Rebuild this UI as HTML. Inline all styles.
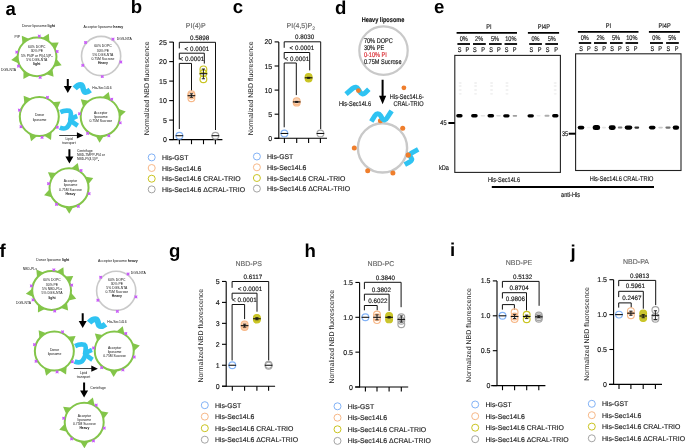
<!DOCTYPE html><html><head><meta charset="utf-8"><style>html,body{margin:0;padding:0;background:#fff;}svg{display:block;will-change:transform;}</style></head><body><svg width="685" height="448" viewBox="0 0 685 448" font-family='"Liberation Sans", sans-serif' text-rendering="geometricPrecision">
<rect width="685" height="448" fill="#fff"/>
<defs><filter id="bl" x="-50%" y="-100%" width="200%" height="300%"><feGaussianBlur stdDeviation="0.55"/></filter><filter id="bl2" x="-50%" y="-100%" width="200%" height="300%"><feGaussianBlur stdDeviation="1.2"/></filter></defs>
<text x="5.60" y="14.90" font-size="18.6" text-anchor="start" font-weight="bold" fill="#000" >a</text>
<text x="130.70" y="13.20" font-size="18.6" text-anchor="start" font-weight="bold" fill="#000" >b</text>
<text x="232.80" y="13.20" font-size="18.6" text-anchor="start" font-weight="bold" fill="#000" >c</text>
<text x="335.10" y="13.70" font-size="18.6" text-anchor="start" font-weight="bold" fill="#000" >d</text>
<text x="434.00" y="13.20" font-size="18.6" text-anchor="start" font-weight="bold" fill="#000" >e</text>
<text x="-0.60" y="256.60" font-size="18.6" text-anchor="start" font-weight="bold" fill="#000" >f</text>
<text x="169.00" y="256.60" font-size="18.6" text-anchor="start" font-weight="bold" fill="#000" >g</text>
<text x="304.60" y="256.50" font-size="18.6" text-anchor="start" font-weight="bold" fill="#000" >h</text>
<text x="450.10" y="255.80" font-size="18.6" text-anchor="start" font-weight="bold" fill="#000" >i</text>
<text x="570.60" y="258.00" font-size="18.6" text-anchor="start" font-weight="bold" fill="#000" >j</text>
<text x="38.50" y="27.30" font-size="3.5" text-anchor="middle" font-weight="normal" fill="#111" stroke="#111" stroke-width="0.000" text-rendering="optimizeLegibility" >Donor liposome <tspan font-weight="bold">light</tspan></text>
<path d="M22.57 44.65 L21.77 35.77 L29.97 39.28 Z" fill="#83c549"/>
<path d="M41.30 38.38 L48.85 33.63 L49.45 42.54 Z" fill="#83c549"/>
<path d="M49.79 42.84 L58.71 42.41 L54.85 50.46 Z" fill="#83c549"/>
<path d="M55.89 58.35 L61.68 65.14 L52.95 67.01 Z" fill="#83c549"/>
<path d="M52.24 68.04 L53.59 76.86 L45.19 73.86 Z" fill="#83c549"/>
<path d="M31.30 74.81 L23.39 78.92 L23.52 70.00 Z" fill="#83c549"/>
<path d="M19.44 63.67 L11.26 60.10 L18.28 54.59 Z" fill="#83c549"/>
<circle cx="37.05" cy="56.80" r="19.4" fill="#fff" stroke="#83c549" stroke-width="2.0"/>
<path d="M40.85 34.57 L40.48 36.12 L40.85 37.68 L39.30 37.30 L37.74 37.68 L38.11 36.12 L37.74 34.57 L39.30 34.94 Z" fill="#c95cf8"/>
<path d="M58.71 49.90 L58.33 51.45 L58.71 53.01 L57.15 52.63 L55.59 53.01 L55.97 51.45 L55.59 49.90 L57.15 50.27 Z" fill="#c95cf8"/>
<path d="M41.72 75.81 L41.34 77.37 L41.72 78.92 L40.16 78.55 L38.60 78.92 L38.98 77.37 L38.60 75.81 L40.16 76.18 Z" fill="#c95cf8"/>
<path d="M18.34 50.57 L17.97 52.12 L18.34 53.68 L16.78 53.30 L15.23 53.68 L15.60 52.12 L15.23 50.57 L16.78 50.94 Z" fill="#c95cf8"/>
<path d="M20.02 64.59 L19.65 66.15 L20.02 67.70 L18.47 67.33 L16.91 67.70 L17.29 66.15 L16.91 64.59 L18.47 64.96 Z" fill="#c95cf8"/>
<text x="36.80" y="47.90" font-size="3.4" text-anchor="middle" font-weight="normal" fill="#111" stroke="#111" stroke-width="0.000" text-rendering="optimizeLegibility" >60% DOPC</text>
<text x="36.80" y="52.20" font-size="3.4" text-anchor="middle" font-weight="normal" fill="#111" stroke="#111" stroke-width="0.000" text-rendering="optimizeLegibility" >30% PE</text>
<text x="36.80" y="56.50" font-size="3.4" text-anchor="middle" font-weight="normal" fill="#111" stroke="#111" stroke-width="0.000" text-rendering="optimizeLegibility" >5% PI4P or PI(4,5)P<tspan font-size="2.4" dy="0.8">2</tspan></text>
<text x="36.80" y="60.80" font-size="3.4" text-anchor="middle" font-weight="normal" fill="#111" stroke="#111" stroke-width="0.000" text-rendering="optimizeLegibility" >5% DGS-NTA</text>
<text x="36.80" y="65.10" font-size="3.4" text-anchor="middle" font-weight="bold" fill="#111" stroke="#111" stroke-width="0.000" text-rendering="optimizeLegibility" >light</text>
<text x="14.50" y="38.00" font-size="3.4" text-anchor="start" font-weight="normal" fill="#111" stroke="#111" stroke-width="0.000" text-rendering="optimizeLegibility" >PIP</text>
<text x="1.00" y="71.00" font-size="3.4" text-anchor="start" font-weight="normal" fill="#111" stroke="#111" stroke-width="0.000" text-rendering="optimizeLegibility" >DGS-NTA</text>
<text x="103.40" y="27.90" font-size="3.5" text-anchor="middle" font-weight="normal" fill="#111" stroke="#111" stroke-width="0.000" text-rendering="optimizeLegibility" >Acceptor liposome <tspan font-weight="bold">heavy</tspan></text>
<circle cx="101.10" cy="56.00" r="19.6" fill="#fff" stroke="#c9c9c9" stroke-width="1.6"/>
<path d="M114.53 37.61 L114.16 39.17 L114.53 40.72 L112.97 40.35 L111.42 40.72 L111.79 39.17 L111.42 37.61 L112.97 37.98 Z" fill="#c95cf8"/>
<path d="M87.11 40.93 L86.74 42.49 L87.11 44.04 L85.55 43.67 L84.00 44.04 L84.37 42.49 L84.00 40.93 L85.55 41.30 Z" fill="#c95cf8"/>
<path d="M84.33 63.86 L83.96 65.42 L84.33 66.97 L82.78 66.60 L81.22 66.97 L81.60 65.42 L81.22 63.86 L82.78 64.23 Z" fill="#c95cf8"/>
<path d="M122.36 60.47 L121.98 62.02 L122.36 63.58 L120.80 63.21 L119.24 63.58 L119.62 62.02 L119.24 60.47 L120.80 60.84 Z" fill="#c95cf8"/>
<path d="M103.84 75.01 L103.47 76.57 L103.84 78.12 L102.29 77.75 L100.73 78.12 L101.10 76.57 L100.73 75.01 L102.29 75.38 Z" fill="#c95cf8"/>
<text x="102.90" y="47.40" font-size="3.4" text-anchor="middle" font-weight="normal" fill="#111" stroke="#111" stroke-width="0.000" text-rendering="optimizeLegibility" >60% DOPC</text>
<text x="102.90" y="51.60" font-size="3.4" text-anchor="middle" font-weight="normal" fill="#111" stroke="#111" stroke-width="0.000" text-rendering="optimizeLegibility" >30% PE</text>
<text x="102.90" y="55.80" font-size="3.4" text-anchor="middle" font-weight="normal" fill="#111" stroke="#111" stroke-width="0.000" text-rendering="optimizeLegibility" >5% DGS-NTA</text>
<text x="102.90" y="60.00" font-size="3.4" text-anchor="middle" font-weight="normal" fill="#111" stroke="#111" stroke-width="0.000" text-rendering="optimizeLegibility" >0.75M Sucrose</text>
<text x="102.90" y="64.20" font-size="3.4" text-anchor="middle" font-weight="bold" fill="#111" stroke="#111" stroke-width="0.000" text-rendering="optimizeLegibility" >Heavy</text>
<text x="116.80" y="40.10" font-size="3.4" text-anchor="start" font-weight="normal" fill="#111" stroke="#111" stroke-width="0.000" text-rendering="optimizeLegibility" >DGS-NTA</text>
<path d="M66.80 79.00 H68.80 V86.10 H71.80 L67.80 93.10 L63.80 86.10 H66.80 Z" fill="#000"/>
<path d="M0.3 4.2 C2.2 2 4.8 0.4 7 0.8 C8.8 1.2 8.4 5.5 9.8 7.2 C11.2 8.6 13.6 7.5 15.8 5.8" transform="translate(74.40 84.20) rotate(0) scale(1.0 1.0)" fill="none" stroke="#2fc3f2" stroke-width="5.6" stroke-linecap="butt" stroke-linejoin="round"/>
<text x="92.20" y="89.10" font-size="3.4" text-anchor="start" font-weight="normal" fill="#111" stroke="#111" stroke-width="0.000" text-rendering="optimizeLegibility" >His-Sec14L6</text>
<path d="M24.53 104.64 L23.59 95.76 L31.88 99.11 Z" fill="#83c549"/>
<path d="M51.64 102.15 L60.55 101.44 L56.98 109.64 Z" fill="#83c549"/>
<path d="M37.84 135.54 L31.06 141.37 L29.12 132.64 Z" fill="#83c549"/>
<path d="M51.69 131.00 L51.03 139.92 L43.48 135.14 Z" fill="#83c549"/>
<circle cx="39.30" cy="116.60" r="19.5" fill="#fff" stroke="#83c549" stroke-width="2.0"/>
<path d="M49.02 95.81 L48.65 97.36 L49.02 98.92 L47.47 98.54 L45.91 98.92 L46.28 97.36 L45.91 95.81 L47.47 96.18 Z" fill="#c95cf8"/>
<path d="M20.98 108.59 L20.61 110.14 L20.98 111.70 L19.42 111.32 L17.87 111.70 L18.24 110.14 L17.87 108.59 L19.42 108.96 Z" fill="#c95cf8"/>
<path d="M22.58 125.18 L22.20 126.73 L22.58 128.29 L21.02 127.91 L19.46 128.29 L19.84 126.73 L19.46 125.18 L21.02 125.55 Z" fill="#c95cf8"/>
<path d="M58.86 125.65 L58.49 127.21 L58.86 128.76 L57.31 128.39 L55.75 128.76 L56.13 127.21 L55.75 125.65 L57.31 126.03 Z" fill="#c95cf8"/>
<path d="M43.58 135.77 L43.21 137.32 L43.58 138.88 L42.03 138.50 L40.47 138.88 L40.85 137.32 L40.47 135.77 L42.03 136.14 Z" fill="#c95cf8"/>
<text x="39.60" y="116.10" font-size="3.4" text-anchor="middle" font-weight="normal" fill="#111" stroke="#111" stroke-width="0.000" text-rendering="optimizeLegibility" >Donor</text>
<text x="39.60" y="120.90" font-size="3.4" text-anchor="middle" font-weight="normal" fill="#111" stroke="#111" stroke-width="0.000" text-rendering="optimizeLegibility" >liposome</text>
<path d="M101.86 97.77 L108.70 92.02 L110.55 100.77 Z" fill="#83c549"/>
<path d="M83.42 107.78 L80.80 99.24 L89.58 100.95 Z" fill="#83c549"/>
<path d="M117.32 108.46 L125.76 111.41 L119.18 117.46 Z" fill="#83c549"/>
<path d="M104.34 135.24 L99.56 142.79 L95.15 135.02 Z" fill="#83c549"/>
<circle cx="100.20" cy="116.70" r="19.5" fill="#fff" stroke="#83c549" stroke-width="2.0"/>
<path d="M113.29 97.72 L112.92 99.27 L113.29 100.83 L111.74 100.45 L110.18 100.83 L110.55 99.27 L110.18 97.72 L111.74 98.09 Z" fill="#c95cf8"/>
<path d="M81.06 112.24 L80.69 113.79 L81.06 115.35 L79.50 114.97 L77.95 115.35 L78.32 113.79 L77.95 112.24 L79.50 112.61 Z" fill="#c95cf8"/>
<path d="M121.74 121.25 L121.37 122.81 L121.74 124.37 L120.19 123.99 L118.63 124.37 L119.00 122.81 L118.63 121.25 L120.19 121.63 Z" fill="#c95cf8"/>
<path d="M89.18 131.84 L88.80 133.39 L89.18 134.95 L87.62 134.57 L86.07 134.95 L86.44 133.39 L86.07 131.84 L87.62 132.21 Z" fill="#c95cf8"/>
<path d="M110.39 134.18 L110.02 135.73 L110.39 137.29 L108.83 136.92 L107.28 137.29 L107.65 135.73 L107.28 134.18 L108.83 134.55 Z" fill="#c95cf8"/>
<text x="100.80" y="113.90" font-size="3.4" text-anchor="middle" font-weight="normal" fill="#111" stroke="#111" stroke-width="0.000" text-rendering="optimizeLegibility" >Acceptor</text>
<text x="100.80" y="118.10" font-size="3.4" text-anchor="middle" font-weight="normal" fill="#111" stroke="#111" stroke-width="0.000" text-rendering="optimizeLegibility" >liposome</text>
<text x="100.80" y="122.30" font-size="3.4" text-anchor="middle" font-weight="normal" fill="#111" stroke="#111" stroke-width="0.000" text-rendering="optimizeLegibility" >0.75M Sucrose</text>
<g transform="translate(60.00 109.00) scale(1.0)" fill="none" stroke="#2fc3f2" stroke-width="4.7" stroke-linejoin="round" stroke-linecap="butt"><path d="M0.3 3.2 C3 1.8 6.5 1.2 9.5 1.8 C11.5 2.8 11 6 10.3 11"/><path d="M17.2 7 C14.5 8 12 9.5 10.3 11 C12.5 13 15 15 17.7 16.8"/><path d="M10.8 11.5 C9.5 15.5 8 18 6 19 C4 20 2 19.5 -0.2 18.6"/></g>
<path d="M59.20 135.00 H76.90 V132.30 L83.50 135.40 L76.90 138.50 V135.80 H59.20 Z" fill="#000"/>
<text x="69.00" y="139.80" font-size="3.4" text-anchor="middle" font-weight="normal" fill="#111" stroke="#111" stroke-width="0.000" text-rendering="optimizeLegibility" >Lipid</text>
<text x="69.00" y="144.10" font-size="3.4" text-anchor="middle" font-weight="normal" fill="#111" stroke="#111" stroke-width="0.000" text-rendering="optimizeLegibility" >transport</text>
<path d="M68.40 149.20 H70.40 V156.60 H73.40 L69.40 163.60 L65.40 156.60 H68.40 Z" fill="#000"/>
<text x="77.00" y="152.00" font-size="3.4" text-anchor="start" font-weight="normal" fill="#111" stroke="#111" stroke-width="0.000" text-rendering="optimizeLegibility" >Centrifuge</text>
<text x="77.00" y="156.20" font-size="3.4" text-anchor="start" font-weight="normal" fill="#111" stroke="#111" stroke-width="0.000" text-rendering="optimizeLegibility" >NBD-TMPP-PI4 or</text>
<text x="77.00" y="160.40" font-size="3.4" text-anchor="start" font-weight="normal" fill="#111" stroke="#111" stroke-width="0.000" text-rendering="optimizeLegibility" >NBD-PI(4,5)P<tspan font-size="2.4" dy="0.8">2</tspan></text>
<path d="M70.87 168.74 L77.76 163.05 L79.54 171.81 Z" fill="#83c549"/>
<path d="M51.43 180.53 L47.93 172.31 L56.84 173.10 Z" fill="#83c549"/>
<path d="M84.46 176.54 L93.28 177.96 L87.87 185.07 Z" fill="#83c549"/>
<path d="M52.76 197.44 L44.09 195.28 L50.08 188.64 Z" fill="#83c549"/>
<path d="M73.81 206.04 L69.28 213.75 L64.61 206.13 Z" fill="#83c549"/>
<circle cx="69.05" cy="187.65" r="19.5" fill="#fff" stroke="#83c549" stroke-width="2.0"/>
<path d="M82.59 168.97 L82.22 170.53 L82.59 172.09 L81.04 171.71 L79.48 172.09 L79.86 170.53 L79.48 168.97 L81.04 169.35 Z" fill="#c95cf8"/>
<path d="M50.09 182.11 L49.72 183.66 L50.09 185.22 L48.53 184.84 L46.98 185.22 L47.35 183.66 L46.98 182.11 L48.53 182.48 Z" fill="#c95cf8"/>
<path d="M90.64 192.03 L90.27 193.59 L90.64 195.14 L89.09 194.77 L87.53 195.14 L87.91 193.59 L87.53 192.03 L89.09 192.40 Z" fill="#c95cf8"/>
<path d="M58.03 202.79 L57.65 204.34 L58.03 205.90 L56.47 205.52 L54.92 205.90 L55.29 204.34 L54.92 202.79 L56.47 203.16 Z" fill="#c95cf8"/>
<path d="M79.87 204.83 L79.49 206.39 L79.87 207.94 L78.31 207.57 L76.75 207.94 L77.13 206.39 L76.75 204.83 L78.31 205.20 Z" fill="#c95cf8"/>
<text x="70.50" y="182.10" font-size="3.4" text-anchor="middle" font-weight="normal" fill="#111" stroke="#111" stroke-width="0.000" text-rendering="optimizeLegibility" >Acceptor</text>
<text x="70.50" y="186.40" font-size="3.4" text-anchor="middle" font-weight="normal" fill="#111" stroke="#111" stroke-width="0.000" text-rendering="optimizeLegibility" >liposome</text>
<text x="70.50" y="190.70" font-size="3.4" text-anchor="middle" font-weight="normal" fill="#111" stroke="#111" stroke-width="0.000" text-rendering="optimizeLegibility" >0.75M Sucrose</text>
<text x="70.50" y="195.00" font-size="3.4" text-anchor="middle" font-weight="bold" fill="#111" stroke="#111" stroke-width="0.000" text-rendering="optimizeLegibility" >Heavy</text>
<text x="52.80" y="261.30" font-size="3.5" text-anchor="middle" font-weight="normal" fill="#111" stroke="#111" stroke-width="0.000" text-rendering="optimizeLegibility" >Donor liposome <tspan font-weight="bold">light</tspan></text>
<path d="M37.12 278.35 L36.32 269.47 L44.52 272.98 Z" fill="#83c549"/>
<path d="M55.85 272.08 L63.40 267.33 L64.00 276.24 Z" fill="#83c549"/>
<path d="M64.34 276.54 L73.26 276.11 L69.40 284.16 Z" fill="#83c549"/>
<path d="M70.44 292.05 L76.23 298.84 L67.50 300.71 Z" fill="#83c549"/>
<path d="M66.79 301.74 L68.14 310.56 L59.74 307.56 Z" fill="#83c549"/>
<path d="M45.85 308.51 L37.94 312.62 L38.07 303.70 Z" fill="#83c549"/>
<path d="M33.99 297.37 L25.81 293.80 L32.83 288.29 Z" fill="#83c549"/>
<circle cx="51.60" cy="290.50" r="19.4" fill="#fff" stroke="#83c549" stroke-width="2.0"/>
<path d="M55.40 268.27 L55.03 269.82 L55.40 271.38 L53.85 271.00 L52.29 271.38 L52.66 269.82 L52.29 268.27 L53.85 268.64 Z" fill="#c95cf8"/>
<path d="M73.26 283.60 L72.88 285.15 L73.26 286.71 L71.70 286.33 L70.14 286.71 L70.52 285.15 L70.14 283.60 L71.70 283.97 Z" fill="#c95cf8"/>
<path d="M56.27 309.51 L55.89 311.07 L56.27 312.62 L54.71 312.25 L53.15 312.62 L53.53 311.07 L53.15 309.51 L54.71 309.88 Z" fill="#c95cf8"/>
<path d="M32.89 284.27 L32.52 285.82 L32.89 287.38 L31.33 287.00 L29.78 287.38 L30.15 285.82 L29.78 284.27 L31.33 284.64 Z" fill="#c95cf8"/>
<path d="M34.57 298.29 L34.20 299.85 L34.57 301.40 L33.02 301.03 L31.46 301.40 L31.84 299.85 L31.46 298.29 L33.02 298.66 Z" fill="#c95cf8"/>
<text x="52.00" y="281.40" font-size="3.4" text-anchor="middle" font-weight="normal" fill="#111" stroke="#111" stroke-width="0.000" text-rendering="optimizeLegibility" >60% DOPC</text>
<text x="52.00" y="285.75" font-size="3.4" text-anchor="middle" font-weight="normal" fill="#111" stroke="#111" stroke-width="0.000" text-rendering="optimizeLegibility" >30% PE</text>
<text x="52.00" y="290.10" font-size="3.4" text-anchor="middle" font-weight="normal" fill="#111" stroke="#111" stroke-width="0.000" text-rendering="optimizeLegibility" >5% NBD-PLs</text>
<text x="52.00" y="294.45" font-size="3.4" text-anchor="middle" font-weight="normal" fill="#111" stroke="#111" stroke-width="0.000" text-rendering="optimizeLegibility" >5% DGS-NTA</text>
<text x="52.00" y="298.80" font-size="3.4" text-anchor="middle" font-weight="bold" fill="#111" stroke="#111" stroke-width="0.000" text-rendering="optimizeLegibility" >light</text>
<text x="22.80" y="270.20" font-size="3.4" text-anchor="start" font-weight="normal" fill="#111" stroke="#111" stroke-width="0.000" text-rendering="optimizeLegibility" >NBD-PLs</text>
<text x="16.00" y="304.00" font-size="3.4" text-anchor="start" font-weight="normal" fill="#111" stroke="#111" stroke-width="0.000" text-rendering="optimizeLegibility" >DGS-NTA</text>
<text x="117.90" y="261.80" font-size="3.5" text-anchor="middle" font-weight="normal" fill="#111" stroke="#111" stroke-width="0.000" text-rendering="optimizeLegibility" >Acceptor liposome <tspan font-weight="bold">heavy</tspan></text>
<circle cx="116.20" cy="290.80" r="19.6" fill="#fff" stroke="#c9c9c9" stroke-width="1.6"/>
<path d="M129.63 272.41 L129.26 273.97 L129.63 275.52 L128.07 275.15 L126.52 275.52 L126.89 273.97 L126.52 272.41 L128.07 272.78 Z" fill="#c95cf8"/>
<path d="M102.21 275.73 L101.84 277.29 L102.21 278.84 L100.65 278.47 L99.10 278.84 L99.47 277.29 L99.10 275.73 L100.65 276.10 Z" fill="#c95cf8"/>
<path d="M99.43 298.66 L99.06 300.22 L99.43 301.77 L97.88 301.40 L96.32 301.77 L96.70 300.22 L96.32 298.66 L97.88 299.03 Z" fill="#c95cf8"/>
<path d="M137.46 295.27 L137.08 296.82 L137.46 298.38 L135.90 298.01 L134.34 298.38 L134.72 296.82 L134.34 295.27 L135.90 295.64 Z" fill="#c95cf8"/>
<path d="M118.94 309.81 L118.57 311.37 L118.94 312.92 L117.39 312.55 L115.83 312.92 L116.20 311.37 L115.83 309.81 L117.39 310.18 Z" fill="#c95cf8"/>
<text x="116.80" y="280.60" font-size="3.4" text-anchor="middle" font-weight="normal" fill="#111" stroke="#111" stroke-width="0.000" text-rendering="optimizeLegibility" >60% DOPC</text>
<text x="116.80" y="284.80" font-size="3.4" text-anchor="middle" font-weight="normal" fill="#111" stroke="#111" stroke-width="0.000" text-rendering="optimizeLegibility" >30% PE</text>
<text x="116.80" y="289.00" font-size="3.4" text-anchor="middle" font-weight="normal" fill="#111" stroke="#111" stroke-width="0.000" text-rendering="optimizeLegibility" >5% DGS-NTA</text>
<text x="116.80" y="293.20" font-size="3.4" text-anchor="middle" font-weight="normal" fill="#111" stroke="#111" stroke-width="0.000" text-rendering="optimizeLegibility" >0.75M Sucrose</text>
<text x="116.80" y="297.40" font-size="3.4" text-anchor="middle" font-weight="bold" fill="#111" stroke="#111" stroke-width="0.000" text-rendering="optimizeLegibility" >Heavy</text>
<text x="130.80" y="273.60" font-size="3.4" text-anchor="start" font-weight="normal" fill="#111" stroke="#111" stroke-width="0.000" text-rendering="optimizeLegibility" >DGS-NTA</text>
<path d="M81.70 313.20 H83.70 V320.90 H86.70 L82.70 327.90 L78.70 320.90 H81.70 Z" fill="#000"/>
<path d="M0.3 4.2 C2.2 2 4.8 0.4 7 0.8 C8.8 1.2 8.4 5.5 9.8 7.2 C11.2 8.6 13.6 7.5 15.8 5.8" transform="translate(88.80 318.40) rotate(0) scale(1.06 1.0)" fill="none" stroke="#2fc3f2" stroke-width="5.6" stroke-linecap="butt" stroke-linejoin="round"/>
<text x="107.20" y="322.80" font-size="3.4" text-anchor="start" font-weight="normal" fill="#111" stroke="#111" stroke-width="0.000" text-rendering="optimizeLegibility" >His-Sec14L6</text>
<path d="M39.58 339.14 L38.64 330.26 L46.93 333.61 Z" fill="#83c549"/>
<path d="M66.69 336.65 L75.60 335.94 L72.03 344.14 Z" fill="#83c549"/>
<path d="M52.89 370.04 L46.11 375.87 L44.17 367.14 Z" fill="#83c549"/>
<path d="M66.74 365.50 L66.08 374.42 L58.53 369.64 Z" fill="#83c549"/>
<circle cx="54.35" cy="351.10" r="19.5" fill="#fff" stroke="#83c549" stroke-width="2.0"/>
<path d="M64.07 330.31 L63.70 331.86 L64.07 333.42 L62.52 333.04 L60.96 333.42 L61.33 331.86 L60.96 330.31 L62.52 330.68 Z" fill="#c95cf8"/>
<path d="M36.03 343.09 L35.66 344.64 L36.03 346.20 L34.47 345.82 L32.92 346.20 L33.29 344.64 L32.92 343.09 L34.47 343.46 Z" fill="#c95cf8"/>
<path d="M37.63 359.68 L37.25 361.23 L37.63 362.79 L36.07 362.41 L34.51 362.79 L34.89 361.23 L34.51 359.68 L36.07 360.05 Z" fill="#c95cf8"/>
<path d="M73.91 360.15 L73.54 361.71 L73.91 363.26 L72.36 362.89 L70.80 363.26 L71.18 361.71 L70.80 360.15 L72.36 360.53 Z" fill="#c95cf8"/>
<path d="M58.63 370.27 L58.26 371.82 L58.63 373.38 L57.08 373.00 L55.52 373.38 L55.90 371.82 L55.52 370.27 L57.08 370.64 Z" fill="#c95cf8"/>
<text x="54.50" y="350.60" font-size="3.4" text-anchor="middle" font-weight="normal" fill="#111" stroke="#111" stroke-width="0.000" text-rendering="optimizeLegibility" >Donor</text>
<text x="54.50" y="355.40" font-size="3.4" text-anchor="middle" font-weight="normal" fill="#111" stroke="#111" stroke-width="0.000" text-rendering="optimizeLegibility" >liposome</text>
<path d="M115.91 331.97 L122.75 326.22 L124.60 334.97 Z" fill="#83c549"/>
<path d="M97.47 341.98 L94.85 333.44 L103.63 335.15 Z" fill="#83c549"/>
<path d="M131.37 342.66 L139.81 345.61 L133.23 351.66 Z" fill="#83c549"/>
<path d="M118.39 369.44 L113.61 376.99 L109.20 369.22 Z" fill="#83c549"/>
<circle cx="114.25" cy="350.90" r="19.5" fill="#fff" stroke="#83c549" stroke-width="2.0"/>
<path d="M127.34 331.92 L126.97 333.47 L127.34 335.03 L125.79 334.65 L124.23 335.03 L124.60 333.47 L124.23 331.92 L125.79 332.29 Z" fill="#c95cf8"/>
<path d="M95.11 346.44 L94.74 347.99 L95.11 349.55 L93.55 349.17 L92.00 349.55 L92.37 347.99 L92.00 346.44 L93.55 346.81 Z" fill="#c95cf8"/>
<path d="M135.79 355.45 L135.42 357.01 L135.79 358.57 L134.24 358.19 L132.68 358.57 L133.05 357.01 L132.68 355.45 L134.24 355.83 Z" fill="#c95cf8"/>
<path d="M103.23 366.04 L102.85 367.59 L103.23 369.15 L101.67 368.77 L100.12 369.15 L100.49 367.59 L100.12 366.04 L101.67 366.41 Z" fill="#c95cf8"/>
<path d="M124.44 368.38 L124.07 369.93 L124.44 371.49 L122.88 371.12 L121.33 371.49 L121.70 369.93 L121.33 368.38 L122.88 368.75 Z" fill="#c95cf8"/>
<text x="114.60" y="348.60" font-size="3.4" text-anchor="middle" font-weight="normal" fill="#111" stroke="#111" stroke-width="0.000" text-rendering="optimizeLegibility" >Acceptor</text>
<text x="114.60" y="352.60" font-size="3.4" text-anchor="middle" font-weight="normal" fill="#111" stroke="#111" stroke-width="0.000" text-rendering="optimizeLegibility" >liposome</text>
<text x="114.60" y="356.60" font-size="3.4" text-anchor="middle" font-weight="normal" fill="#111" stroke="#111" stroke-width="0.000" text-rendering="optimizeLegibility" >0.75M Sucrose</text>
<g transform="translate(74.80 342.90) scale(1.0)" fill="none" stroke="#2fc3f2" stroke-width="4.7" stroke-linejoin="round" stroke-linecap="butt"><path d="M0.3 3.2 C3 1.8 6.5 1.2 9.5 1.8 C11.5 2.8 11 6 10.3 11"/><path d="M17.2 7 C14.5 8 12 9.5 10.3 11 C12.5 13 15 15 17.7 16.8"/><path d="M10.8 11.5 C9.5 15.5 8 18 6 19 C4 20 2 19.5 -0.2 18.6"/></g>
<path d="M73.80 368.30 H91.30 V365.60 L97.90 368.70 L91.30 371.80 V369.10 H73.80 Z" fill="#000"/>
<text x="83.50" y="373.80" font-size="3.4" text-anchor="middle" font-weight="normal" fill="#111" stroke="#111" stroke-width="0.000" text-rendering="optimizeLegibility" >Lipid</text>
<text x="83.50" y="378.20" font-size="3.4" text-anchor="middle" font-weight="normal" fill="#111" stroke="#111" stroke-width="0.000" text-rendering="optimizeLegibility" >transport</text>
<path d="M83.10 382.60 H85.10 V390.40 H88.10 L84.10 397.40 L80.10 390.40 H83.10 Z" fill="#000"/>
<text x="90.20" y="389.40" font-size="3.4" text-anchor="start" font-weight="normal" fill="#111" stroke="#111" stroke-width="0.000" text-rendering="optimizeLegibility" >Centrifuge</text>
<path d="M86.02 403.29 L92.91 397.60 L94.69 406.36 Z" fill="#83c549"/>
<path d="M66.58 415.08 L63.08 406.86 L71.99 407.65 Z" fill="#83c549"/>
<path d="M99.61 411.09 L108.43 412.51 L103.02 419.62 Z" fill="#83c549"/>
<path d="M67.91 431.99 L59.24 429.83 L65.23 423.19 Z" fill="#83c549"/>
<path d="M88.96 440.59 L84.43 448.30 L79.76 440.68 Z" fill="#83c549"/>
<circle cx="84.20" cy="422.20" r="19.5" fill="#fff" stroke="#83c549" stroke-width="2.0"/>
<path d="M97.74 403.52 L97.37 405.08 L97.74 406.64 L96.19 406.26 L94.63 406.64 L95.01 405.08 L94.63 403.52 L96.19 403.90 Z" fill="#c95cf8"/>
<path d="M65.24 416.66 L64.87 418.21 L65.24 419.77 L63.68 419.39 L62.13 419.77 L62.50 418.21 L62.13 416.66 L63.68 417.03 Z" fill="#c95cf8"/>
<path d="M105.79 426.58 L105.42 428.14 L105.79 429.69 L104.24 429.32 L102.68 429.69 L103.06 428.14 L102.68 426.58 L104.24 426.95 Z" fill="#c95cf8"/>
<path d="M73.18 437.34 L72.80 438.89 L73.18 440.45 L71.62 440.07 L70.07 440.45 L70.44 438.89 L70.07 437.34 L71.62 437.71 Z" fill="#c95cf8"/>
<path d="M95.02 439.38 L94.64 440.94 L95.02 442.49 L93.46 442.12 L91.90 442.49 L92.28 440.94 L91.90 439.38 L93.46 439.75 Z" fill="#c95cf8"/>
<text x="84.40" y="416.50" font-size="3.4" text-anchor="middle" font-weight="normal" fill="#111" stroke="#111" stroke-width="0.000" text-rendering="optimizeLegibility" >Acceptor</text>
<text x="84.40" y="420.70" font-size="3.4" text-anchor="middle" font-weight="normal" fill="#111" stroke="#111" stroke-width="0.000" text-rendering="optimizeLegibility" >liposome</text>
<text x="84.40" y="424.90" font-size="3.4" text-anchor="middle" font-weight="normal" fill="#111" stroke="#111" stroke-width="0.000" text-rendering="optimizeLegibility" >0.75M Sucrose</text>
<text x="84.40" y="429.10" font-size="3.4" text-anchor="middle" font-weight="bold" fill="#111" stroke="#111" stroke-width="0.000" text-rendering="optimizeLegibility" >Heavy</text>
<line x1="173.40" y1="42.10" x2="173.40" y2="140.10" stroke="#000" stroke-width="1.1" stroke-linecap="butt"/>
<line x1="169.20" y1="139.60" x2="173.40" y2="139.60" stroke="#000" stroke-width="1.1" stroke-linecap="butt"/>
<text x="166.80" y="142.10" font-size="7" text-anchor="end" font-weight="normal" fill="#111" stroke="#111" stroke-width="0.140" >0</text>
<line x1="169.20" y1="120.10" x2="173.40" y2="120.10" stroke="#000" stroke-width="1.1" stroke-linecap="butt"/>
<text x="166.80" y="122.60" font-size="7" text-anchor="end" font-weight="normal" fill="#111" stroke="#111" stroke-width="0.140" >5</text>
<line x1="169.20" y1="100.60" x2="173.40" y2="100.60" stroke="#000" stroke-width="1.1" stroke-linecap="butt"/>
<text x="166.80" y="103.10" font-size="7" text-anchor="end" font-weight="normal" fill="#111" stroke="#111" stroke-width="0.140" >10</text>
<line x1="169.20" y1="81.10" x2="173.40" y2="81.10" stroke="#000" stroke-width="1.1" stroke-linecap="butt"/>
<text x="166.80" y="83.60" font-size="7" text-anchor="end" font-weight="normal" fill="#111" stroke="#111" stroke-width="0.140" >15</text>
<line x1="169.20" y1="61.60" x2="173.40" y2="61.60" stroke="#000" stroke-width="1.1" stroke-linecap="butt"/>
<text x="166.80" y="64.10" font-size="7" text-anchor="end" font-weight="normal" fill="#111" stroke="#111" stroke-width="0.140" >20</text>
<line x1="169.20" y1="42.10" x2="173.40" y2="42.10" stroke="#000" stroke-width="1.1" stroke-linecap="butt"/>
<text x="166.80" y="44.60" font-size="7" text-anchor="end" font-weight="normal" fill="#111" stroke="#111" stroke-width="0.140" >25</text>
<line x1="169.30" y1="139.60" x2="222.40" y2="139.60" stroke="#000" stroke-width="1.1" stroke-linecap="butt"/>
<line x1="179.40" y1="139.60" x2="179.40" y2="144.20" stroke="#000" stroke-width="1.1" stroke-linecap="butt"/>
<line x1="191.50" y1="139.60" x2="191.50" y2="144.20" stroke="#000" stroke-width="1.1" stroke-linecap="butt"/>
<line x1="203.50" y1="139.60" x2="203.50" y2="144.20" stroke="#000" stroke-width="1.1" stroke-linecap="butt"/>
<line x1="215.40" y1="139.60" x2="215.40" y2="144.20" stroke="#000" stroke-width="1.1" stroke-linecap="butt"/>
<text x="195.70" y="28.20" font-size="7" text-anchor="middle" font-weight="normal" fill="#666" stroke="#666" stroke-width="0.140" >PI(4)P</text>
<path d="M179.30 48.40 V42.30 H215.50 V130.00" fill="none" stroke="#111" stroke-width="1"/>
<path d="M179.30 59.50 V53.20 H204.30 V63.60" fill="none" stroke="#111" stroke-width="1"/>
<path d="M179.30 129.00 V63.40 H191.50 V91.00" fill="none" stroke="#111" stroke-width="1"/>
<text x="199.70" y="39.80" font-size="6.3" text-anchor="middle" font-weight="normal" fill="#111" stroke="#111" stroke-width="0.126" >0.5898</text>
<text x="196.80" y="51.00" font-size="6.3" text-anchor="middle" font-weight="normal" fill="#111" stroke="#111" stroke-width="0.126" >&lt; 0.0001</text>
<text x="191.90" y="61.20" font-size="6.3" text-anchor="middle" font-weight="normal" fill="#111" stroke="#111" stroke-width="0.126" >&lt; 0.0001</text>
<circle cx="179.40" cy="135.70" r="3.4" fill="none" stroke="#82b2f6" stroke-width="1.15"/>
<line x1="175.60" y1="135.70" x2="183.20" y2="135.70" stroke="#111" stroke-width="1.1" stroke-linecap="butt"/>
<circle cx="191.40" cy="98.26" r="3.4" fill="none" stroke="#f7b888" stroke-width="1.15"/>
<circle cx="191.40" cy="94.16" r="3.4" fill="none" stroke="#f7b888" stroke-width="1.15"/>
<circle cx="191.40" cy="95.53" r="3.4" fill="none" stroke="#f7b888" stroke-width="1.15"/>
<line x1="191.40" y1="93.78" x2="191.40" y2="97.28" stroke="#111" stroke-width="0.9" stroke-linecap="butt"/>
<line x1="189.80" y1="93.78" x2="193.00" y2="93.78" stroke="#111" stroke-width="0.9" stroke-linecap="butt"/>
<line x1="189.80" y1="97.28" x2="193.00" y2="97.28" stroke="#111" stroke-width="0.9" stroke-linecap="butt"/>
<line x1="187.60" y1="95.69" x2="195.20" y2="95.69" stroke="#111" stroke-width="1.1" stroke-linecap="butt"/>
<circle cx="203.40" cy="79.15" r="3.4" fill="none" stroke="#c9c420" stroke-width="1.15"/>
<circle cx="203.40" cy="69.40" r="3.4" fill="none" stroke="#c9c420" stroke-width="1.15"/>
<circle cx="203.40" cy="73.30" r="3.4" fill="none" stroke="#c9c420" stroke-width="1.15"/>
<line x1="203.40" y1="69.01" x2="203.40" y2="78.76" stroke="#111" stroke-width="0.9" stroke-linecap="butt"/>
<line x1="201.80" y1="69.01" x2="205.00" y2="69.01" stroke="#111" stroke-width="0.9" stroke-linecap="butt"/>
<line x1="201.80" y1="78.76" x2="205.00" y2="78.76" stroke="#111" stroke-width="0.9" stroke-linecap="butt"/>
<line x1="199.60" y1="73.69" x2="207.20" y2="73.69" stroke="#111" stroke-width="1.1" stroke-linecap="butt"/>
<circle cx="215.40" cy="135.70" r="3.4" fill="none" stroke="#a4a4a4" stroke-width="1.15"/>
<line x1="211.60" y1="135.70" x2="219.20" y2="135.70" stroke="#111" stroke-width="1.1" stroke-linecap="butt"/>
<circle cx="151.70" cy="157.40" r="3.5" fill="none" stroke="#82b2f6" stroke-width="1"/>
<text x="162.00" y="159.90" font-size="6.9" text-anchor="start" font-weight="normal" fill="#1a1a1a" stroke="#1a1a1a" stroke-width="0.138" >His-GST</text>
<circle cx="151.70" cy="168.00" r="3.5" fill="none" stroke="#f7b888" stroke-width="1"/>
<text x="162.00" y="170.50" font-size="6.9" text-anchor="start" font-weight="normal" fill="#1a1a1a" stroke="#1a1a1a" stroke-width="0.138" >His-Sec14L6</text>
<circle cx="151.70" cy="178.70" r="3.5" fill="none" stroke="#c9c420" stroke-width="1"/>
<text x="162.00" y="181.20" font-size="6.9" text-anchor="start" font-weight="normal" fill="#1a1a1a" stroke="#1a1a1a" stroke-width="0.138" >His-Sec14L6 CRAL-TRIO</text>
<circle cx="151.70" cy="189.40" r="3.5" fill="none" stroke="#a4a4a4" stroke-width="1"/>
<text x="162.00" y="191.90" font-size="6.9" text-anchor="start" font-weight="normal" fill="#1a1a1a" stroke="#1a1a1a" stroke-width="0.138" >His-Sec14L6 &#916;CRAL-TRIO</text>
<text x="0" y="0" font-size="7" text-anchor="middle" fill="#1a1a1a" transform="translate(149.00 88.30) rotate(-90)">Normalized NBD fluorescence</text>
<line x1="278.80" y1="41.90" x2="278.80" y2="138.80" stroke="#000" stroke-width="1.1" stroke-linecap="butt"/>
<line x1="274.60" y1="138.30" x2="278.80" y2="138.30" stroke="#000" stroke-width="1.1" stroke-linecap="butt"/>
<text x="272.20" y="140.80" font-size="7" text-anchor="end" font-weight="normal" fill="#111" stroke="#111" stroke-width="0.140" >0</text>
<line x1="274.60" y1="114.20" x2="278.80" y2="114.20" stroke="#000" stroke-width="1.1" stroke-linecap="butt"/>
<text x="272.20" y="116.70" font-size="7" text-anchor="end" font-weight="normal" fill="#111" stroke="#111" stroke-width="0.140" >5</text>
<line x1="274.60" y1="90.10" x2="278.80" y2="90.10" stroke="#000" stroke-width="1.1" stroke-linecap="butt"/>
<text x="272.20" y="92.60" font-size="7" text-anchor="end" font-weight="normal" fill="#111" stroke="#111" stroke-width="0.140" >10</text>
<line x1="274.60" y1="66.00" x2="278.80" y2="66.00" stroke="#000" stroke-width="1.1" stroke-linecap="butt"/>
<text x="272.20" y="68.50" font-size="7" text-anchor="end" font-weight="normal" fill="#111" stroke="#111" stroke-width="0.140" >15</text>
<line x1="274.60" y1="41.90" x2="278.80" y2="41.90" stroke="#000" stroke-width="1.1" stroke-linecap="butt"/>
<text x="272.20" y="44.40" font-size="7" text-anchor="end" font-weight="normal" fill="#111" stroke="#111" stroke-width="0.140" >20</text>
<line x1="274.30" y1="138.30" x2="327.00" y2="138.30" stroke="#000" stroke-width="1.1" stroke-linecap="butt"/>
<line x1="284.40" y1="138.30" x2="284.40" y2="142.90" stroke="#000" stroke-width="1.1" stroke-linecap="butt"/>
<line x1="296.70" y1="138.30" x2="296.70" y2="142.90" stroke="#000" stroke-width="1.1" stroke-linecap="butt"/>
<line x1="308.60" y1="138.30" x2="308.60" y2="142.90" stroke="#000" stroke-width="1.1" stroke-linecap="butt"/>
<line x1="320.40" y1="138.30" x2="320.40" y2="142.90" stroke="#000" stroke-width="1.1" stroke-linecap="butt"/>
<text x="300.80" y="28.40" font-size="7" text-anchor="middle" font-weight="normal" fill="#666" stroke="#666" stroke-width="0.140" >PI(4,5)P<tspan font-size="5" dy="1.2">2</tspan></text>
<path d="M284.20 47.80 V41.80 H320.70 V129.20" fill="none" stroke="#111" stroke-width="1"/>
<path d="M284.20 58.60 V52.50 H309.70 V70.40" fill="none" stroke="#111" stroke-width="1"/>
<path d="M284.20 127.30 V63.00 H296.30 V95.10" fill="none" stroke="#111" stroke-width="1"/>
<text x="304.60" y="39.10" font-size="6.3" text-anchor="middle" font-weight="normal" fill="#111" stroke="#111" stroke-width="0.126" >0.8030</text>
<text x="301.90" y="49.90" font-size="6.3" text-anchor="middle" font-weight="normal" fill="#111" stroke="#111" stroke-width="0.126" >&lt; 0.0001</text>
<text x="296.90" y="60.60" font-size="6.3" text-anchor="middle" font-weight="normal" fill="#111" stroke="#111" stroke-width="0.126" >&lt; 0.0001</text>
<circle cx="284.40" cy="133.48" r="3.4" fill="none" stroke="#82b2f6" stroke-width="1.15"/>
<line x1="280.60" y1="133.48" x2="288.20" y2="133.48" stroke="#111" stroke-width="1.1" stroke-linecap="butt"/>
<circle cx="296.70" cy="102.63" r="3.4" fill="#fbd2b3" stroke="#f7b888" stroke-width="1.15"/>
<circle cx="296.70" cy="101.19" r="3.4" fill="#fbd2b3" stroke="#f7b888" stroke-width="1.15"/>
<line x1="296.70" y1="101.43" x2="296.70" y2="102.39" stroke="#111" stroke-width="0.9" stroke-linecap="butt"/>
<line x1="295.10" y1="101.43" x2="298.30" y2="101.43" stroke="#111" stroke-width="0.9" stroke-linecap="butt"/>
<line x1="295.10" y1="102.39" x2="298.30" y2="102.39" stroke="#111" stroke-width="0.9" stroke-linecap="butt"/>
<line x1="292.90" y1="101.91" x2="300.50" y2="101.91" stroke="#111" stroke-width="1.1" stroke-linecap="butt"/>
<circle cx="308.60" cy="78.53" r="3.4" fill="#c9c431" stroke="#c9c420" stroke-width="1.15"/>
<circle cx="308.60" cy="77.09" r="3.4" fill="#c9c431" stroke="#c9c420" stroke-width="1.15"/>
<line x1="308.60" y1="77.33" x2="308.60" y2="78.29" stroke="#111" stroke-width="0.9" stroke-linecap="butt"/>
<line x1="307.00" y1="77.33" x2="310.20" y2="77.33" stroke="#111" stroke-width="0.9" stroke-linecap="butt"/>
<line x1="307.00" y1="78.29" x2="310.20" y2="78.29" stroke="#111" stroke-width="0.9" stroke-linecap="butt"/>
<line x1="304.80" y1="77.81" x2="312.40" y2="77.81" stroke="#111" stroke-width="1.1" stroke-linecap="butt"/>
<circle cx="320.40" cy="133.48" r="3.4" fill="none" stroke="#a4a4a4" stroke-width="1.15"/>
<line x1="316.60" y1="133.48" x2="324.20" y2="133.48" stroke="#111" stroke-width="1.1" stroke-linecap="butt"/>
<circle cx="256.90" cy="156.50" r="3.5" fill="none" stroke="#82b2f6" stroke-width="1"/>
<text x="266.90" y="159.00" font-size="6.9" text-anchor="start" font-weight="normal" fill="#1a1a1a" stroke="#1a1a1a" stroke-width="0.138" >His-GST</text>
<circle cx="256.90" cy="167.30" r="3.5" fill="none" stroke="#f7b888" stroke-width="1"/>
<text x="266.90" y="169.80" font-size="6.9" text-anchor="start" font-weight="normal" fill="#1a1a1a" stroke="#1a1a1a" stroke-width="0.138" >His-Sec14L6</text>
<circle cx="256.90" cy="178.00" r="3.5" fill="none" stroke="#c9c420" stroke-width="1"/>
<text x="266.90" y="180.50" font-size="6.9" text-anchor="start" font-weight="normal" fill="#1a1a1a" stroke="#1a1a1a" stroke-width="0.138" >His-Sec14L6 CRAL-TRIO</text>
<circle cx="256.90" cy="188.60" r="3.5" fill="none" stroke="#a4a4a4" stroke-width="1"/>
<text x="266.90" y="191.10" font-size="6.9" text-anchor="start" font-weight="normal" fill="#1a1a1a" stroke="#1a1a1a" stroke-width="0.138" >His-Sec14L6 &#916;CRAL-TRIO</text>
<text x="0" y="0" font-size="7" text-anchor="middle" fill="#1a1a1a" transform="translate(252.90 88.30) rotate(-90)">Normalized NBD fluorescence</text>
<line x1="226.20" y1="281.45" x2="226.20" y2="386.70" stroke="#000" stroke-width="1.1" stroke-linecap="butt"/>
<line x1="222.00" y1="386.20" x2="226.20" y2="386.20" stroke="#000" stroke-width="1.1" stroke-linecap="butt"/>
<text x="219.60" y="388.70" font-size="7" text-anchor="end" font-weight="normal" fill="#111" stroke="#111" stroke-width="0.140" >0</text>
<line x1="222.00" y1="365.25" x2="226.20" y2="365.25" stroke="#000" stroke-width="1.1" stroke-linecap="butt"/>
<text x="219.60" y="367.75" font-size="7" text-anchor="end" font-weight="normal" fill="#111" stroke="#111" stroke-width="0.140" >1</text>
<line x1="222.00" y1="344.30" x2="226.20" y2="344.30" stroke="#000" stroke-width="1.1" stroke-linecap="butt"/>
<text x="219.60" y="346.80" font-size="7" text-anchor="end" font-weight="normal" fill="#111" stroke="#111" stroke-width="0.140" >2</text>
<line x1="222.00" y1="323.35" x2="226.20" y2="323.35" stroke="#000" stroke-width="1.1" stroke-linecap="butt"/>
<text x="219.60" y="325.85" font-size="7" text-anchor="end" font-weight="normal" fill="#111" stroke="#111" stroke-width="0.140" >3</text>
<line x1="222.00" y1="302.40" x2="226.20" y2="302.40" stroke="#000" stroke-width="1.1" stroke-linecap="butt"/>
<text x="219.60" y="304.90" font-size="7" text-anchor="end" font-weight="normal" fill="#111" stroke="#111" stroke-width="0.140" >4</text>
<line x1="222.00" y1="281.45" x2="226.20" y2="281.45" stroke="#000" stroke-width="1.1" stroke-linecap="butt"/>
<text x="219.60" y="283.95" font-size="7" text-anchor="end" font-weight="normal" fill="#111" stroke="#111" stroke-width="0.140" >5</text>
<line x1="222.10" y1="386.20" x2="275.10" y2="386.20" stroke="#000" stroke-width="1.1" stroke-linecap="butt"/>
<line x1="232.30" y1="386.20" x2="232.30" y2="390.80" stroke="#000" stroke-width="1.1" stroke-linecap="butt"/>
<line x1="244.60" y1="386.20" x2="244.60" y2="390.80" stroke="#000" stroke-width="1.1" stroke-linecap="butt"/>
<line x1="256.90" y1="386.20" x2="256.90" y2="390.80" stroke="#000" stroke-width="1.1" stroke-linecap="butt"/>
<line x1="268.60" y1="386.20" x2="268.60" y2="390.80" stroke="#000" stroke-width="1.1" stroke-linecap="butt"/>
<text x="248.75" y="265.50" font-size="7" text-anchor="middle" font-weight="normal" fill="#666" stroke="#666" stroke-width="0.140" >NBD-PS</text>
<path d="M232.10 287.80 V281.50 H268.70 V360.50" fill="none" stroke="#111" stroke-width="1"/>
<path d="M232.10 299.20 V293.20 H257.00 V311.70" fill="none" stroke="#111" stroke-width="1"/>
<path d="M232.10 360.50 V304.50 H244.60 V319.10" fill="none" stroke="#111" stroke-width="1"/>
<text x="252.80" y="278.80" font-size="6.3" text-anchor="middle" font-weight="normal" fill="#111" stroke="#111" stroke-width="0.126" >0.6117</text>
<text x="250.00" y="290.50" font-size="6.3" text-anchor="middle" font-weight="normal" fill="#111" stroke="#111" stroke-width="0.126" >&lt; 0.0001</text>
<text x="244.30" y="301.90" font-size="6.3" text-anchor="middle" font-weight="normal" fill="#111" stroke="#111" stroke-width="0.126" >&lt; 0.0001</text>
<circle cx="232.30" cy="365.25" r="3.4" fill="none" stroke="#82b2f6" stroke-width="1.15"/>
<line x1="228.50" y1="365.25" x2="236.10" y2="365.25" stroke="#111" stroke-width="1.1" stroke-linecap="butt"/>
<circle cx="244.60" cy="326.91" r="3.4" fill="#fbd2b3" stroke="#f7b888" stroke-width="1.15"/>
<circle cx="244.60" cy="324.40" r="3.4" fill="#fbd2b3" stroke="#f7b888" stroke-width="1.15"/>
<line x1="244.60" y1="324.19" x2="244.60" y2="327.12" stroke="#111" stroke-width="0.9" stroke-linecap="butt"/>
<line x1="243.00" y1="324.19" x2="246.20" y2="324.19" stroke="#111" stroke-width="0.9" stroke-linecap="butt"/>
<line x1="243.00" y1="327.12" x2="246.20" y2="327.12" stroke="#111" stroke-width="0.9" stroke-linecap="butt"/>
<line x1="240.80" y1="325.65" x2="248.40" y2="325.65" stroke="#111" stroke-width="1.1" stroke-linecap="butt"/>
<circle cx="256.90" cy="319.58" r="3.4" fill="#c9c431" stroke="#c9c420" stroke-width="1.15"/>
<circle cx="256.90" cy="317.90" r="3.4" fill="#c9c431" stroke="#c9c420" stroke-width="1.15"/>
<line x1="256.90" y1="317.69" x2="256.90" y2="319.79" stroke="#111" stroke-width="0.9" stroke-linecap="butt"/>
<line x1="255.30" y1="317.69" x2="258.50" y2="317.69" stroke="#111" stroke-width="0.9" stroke-linecap="butt"/>
<line x1="255.30" y1="319.79" x2="258.50" y2="319.79" stroke="#111" stroke-width="0.9" stroke-linecap="butt"/>
<line x1="253.10" y1="318.74" x2="260.70" y2="318.74" stroke="#111" stroke-width="1.1" stroke-linecap="butt"/>
<circle cx="268.60" cy="365.67" r="3.4" fill="none" stroke="#a4a4a4" stroke-width="1.15"/>
<circle cx="268.60" cy="364.83" r="3.4" fill="none" stroke="#a4a4a4" stroke-width="1.15"/>
<line x1="264.80" y1="365.25" x2="272.40" y2="365.25" stroke="#111" stroke-width="1.1" stroke-linecap="butt"/>
<circle cx="204.80" cy="405.20" r="3.5" fill="none" stroke="#82b2f6" stroke-width="1"/>
<text x="214.90" y="407.70" font-size="6.9" text-anchor="start" font-weight="normal" fill="#1a1a1a" stroke="#1a1a1a" stroke-width="0.138" >His-GST</text>
<circle cx="204.80" cy="416.60" r="3.5" fill="none" stroke="#f7b888" stroke-width="1"/>
<text x="214.90" y="419.10" font-size="6.9" text-anchor="start" font-weight="normal" fill="#1a1a1a" stroke="#1a1a1a" stroke-width="0.138" >His-Sec14L6</text>
<circle cx="204.80" cy="428.20" r="3.5" fill="none" stroke="#c9c420" stroke-width="1"/>
<text x="214.90" y="430.70" font-size="6.9" text-anchor="start" font-weight="normal" fill="#1a1a1a" stroke="#1a1a1a" stroke-width="0.138" >His-Sec14L6 CRAL-TRIO</text>
<circle cx="204.80" cy="439.70" r="3.5" fill="none" stroke="#a4a4a4" stroke-width="1"/>
<text x="214.90" y="442.20" font-size="6.9" text-anchor="start" font-weight="normal" fill="#1a1a1a" stroke="#1a1a1a" stroke-width="0.138" >His-Sec14L6 &#916;CRAL-TRIO</text>
<text x="0" y="0" font-size="7" text-anchor="middle" fill="#1a1a1a" transform="translate(203.10 335.70) rotate(-90)">Normalized NBD fluorescence</text>
<line x1="359.60" y1="282.45" x2="359.60" y2="387.50" stroke="#000" stroke-width="1.1" stroke-linecap="butt"/>
<line x1="355.40" y1="387.00" x2="359.60" y2="387.00" stroke="#000" stroke-width="1.1" stroke-linecap="butt"/>
<text x="353.00" y="389.50" font-size="7" text-anchor="end" font-weight="normal" fill="#111" stroke="#111" stroke-width="0.140" >0</text>
<line x1="355.40" y1="352.15" x2="359.60" y2="352.15" stroke="#000" stroke-width="1.1" stroke-linecap="butt"/>
<text x="353.00" y="354.65" font-size="7" text-anchor="end" font-weight="normal" fill="#111" stroke="#111" stroke-width="0.140" >0.5</text>
<line x1="355.40" y1="317.30" x2="359.60" y2="317.30" stroke="#000" stroke-width="1.1" stroke-linecap="butt"/>
<text x="353.00" y="319.80" font-size="7" text-anchor="end" font-weight="normal" fill="#111" stroke="#111" stroke-width="0.140" >1.0</text>
<line x1="355.40" y1="282.45" x2="359.60" y2="282.45" stroke="#000" stroke-width="1.1" stroke-linecap="butt"/>
<text x="353.00" y="284.95" font-size="7" text-anchor="end" font-weight="normal" fill="#111" stroke="#111" stroke-width="0.140" >1.5</text>
<line x1="355.00" y1="387.00" x2="408.20" y2="387.00" stroke="#000" stroke-width="1.1" stroke-linecap="butt"/>
<line x1="365.40" y1="387.00" x2="365.40" y2="391.60" stroke="#000" stroke-width="1.1" stroke-linecap="butt"/>
<line x1="377.00" y1="387.00" x2="377.00" y2="391.60" stroke="#000" stroke-width="1.1" stroke-linecap="butt"/>
<line x1="389.10" y1="387.00" x2="389.10" y2="391.60" stroke="#000" stroke-width="1.1" stroke-linecap="butt"/>
<line x1="401.30" y1="387.00" x2="401.30" y2="391.60" stroke="#000" stroke-width="1.1" stroke-linecap="butt"/>
<text x="381.00" y="266.30" font-size="7" text-anchor="middle" font-weight="normal" fill="#666" stroke="#666" stroke-width="0.140" >NBD-PC</text>
<path d="M364.40 289.10 V282.30 H401.10 V307.20" fill="none" stroke="#111" stroke-width="1"/>
<path d="M364.40 300.70 V294.20 H389.10 V310.90" fill="none" stroke="#111" stroke-width="1"/>
<path d="M364.40 310.30 V305.50 H377.20 V310.30" fill="none" stroke="#111" stroke-width="1"/>
<text x="385.50" y="280.00" font-size="6.3" text-anchor="middle" font-weight="normal" fill="#111" stroke="#111" stroke-width="0.126" >0.3840</text>
<text x="381.40" y="292.00" font-size="6.3" text-anchor="middle" font-weight="normal" fill="#111" stroke="#111" stroke-width="0.126" >0.3802</text>
<text x="377.90" y="303.20" font-size="6.3" text-anchor="middle" font-weight="normal" fill="#111" stroke="#111" stroke-width="0.126" >0.6022</text>
<circle cx="365.40" cy="317.30" r="3.4" fill="none" stroke="#82b2f6" stroke-width="1.15"/>
<line x1="361.60" y1="317.30" x2="369.20" y2="317.30" stroke="#111" stroke-width="1.1" stroke-linecap="butt"/>
<circle cx="377.00" cy="314.51" r="3.4" fill="none" stroke="#f7b888" stroke-width="1.15"/>
<circle cx="377.00" cy="320.09" r="3.4" fill="none" stroke="#f7b888" stroke-width="1.15"/>
<circle cx="377.00" cy="317.30" r="3.4" fill="#fde6d4" stroke="#f7b888" stroke-width="1.15"/>
<line x1="377.00" y1="314.86" x2="377.00" y2="319.74" stroke="#111" stroke-width="0.9" stroke-linecap="butt"/>
<line x1="375.40" y1="314.86" x2="378.60" y2="314.86" stroke="#111" stroke-width="0.9" stroke-linecap="butt"/>
<line x1="375.40" y1="319.74" x2="378.60" y2="319.74" stroke="#111" stroke-width="0.9" stroke-linecap="butt"/>
<line x1="373.20" y1="317.30" x2="380.80" y2="317.30" stroke="#111" stroke-width="1.1" stroke-linecap="butt"/>
<circle cx="389.10" cy="315.91" r="3.4" fill="#c9c431" stroke="#c9c420" stroke-width="1.15"/>
<circle cx="389.10" cy="319.39" r="3.4" fill="#c9c431" stroke="#c9c420" stroke-width="1.15"/>
<line x1="389.10" y1="316.60" x2="389.10" y2="318.00" stroke="#111" stroke-width="0.9" stroke-linecap="butt"/>
<line x1="387.50" y1="316.60" x2="390.70" y2="316.60" stroke="#111" stroke-width="0.9" stroke-linecap="butt"/>
<line x1="387.50" y1="318.00" x2="390.70" y2="318.00" stroke="#111" stroke-width="0.9" stroke-linecap="butt"/>
<line x1="385.30" y1="317.30" x2="392.90" y2="317.30" stroke="#111" stroke-width="1.1" stroke-linecap="butt"/>
<circle cx="401.30" cy="317.30" r="3.4" fill="none" stroke="#a4a4a4" stroke-width="1.15"/>
<circle cx="401.30" cy="320.79" r="3.4" fill="none" stroke="#a4a4a4" stroke-width="1.15"/>
<circle cx="401.30" cy="324.27" r="3.4" fill="none" stroke="#a4a4a4" stroke-width="1.15"/>
<line x1="401.30" y1="315.91" x2="401.30" y2="322.18" stroke="#111" stroke-width="0.9" stroke-linecap="butt"/>
<line x1="399.70" y1="315.91" x2="402.90" y2="315.91" stroke="#111" stroke-width="0.9" stroke-linecap="butt"/>
<line x1="399.70" y1="322.18" x2="402.90" y2="322.18" stroke="#111" stroke-width="0.9" stroke-linecap="butt"/>
<line x1="397.50" y1="319.39" x2="405.10" y2="319.39" stroke="#111" stroke-width="1.1" stroke-linecap="butt"/>
<circle cx="337.50" cy="406.30" r="3.5" fill="none" stroke="#82b2f6" stroke-width="1"/>
<text x="347.70" y="408.80" font-size="6.9" text-anchor="start" font-weight="normal" fill="#1a1a1a" stroke="#1a1a1a" stroke-width="0.138" >His-GST</text>
<circle cx="337.50" cy="417.70" r="3.5" fill="none" stroke="#f7b888" stroke-width="1"/>
<text x="347.70" y="420.20" font-size="6.9" text-anchor="start" font-weight="normal" fill="#1a1a1a" stroke="#1a1a1a" stroke-width="0.138" >His-Sec14L6</text>
<circle cx="337.50" cy="429.30" r="3.5" fill="none" stroke="#c9c420" stroke-width="1"/>
<text x="347.70" y="431.80" font-size="6.9" text-anchor="start" font-weight="normal" fill="#1a1a1a" stroke="#1a1a1a" stroke-width="0.138" >His-Sec14L6 CRAL-TRIO</text>
<circle cx="337.50" cy="440.90" r="3.5" fill="none" stroke="#a4a4a4" stroke-width="1"/>
<text x="347.70" y="443.40" font-size="6.9" text-anchor="start" font-weight="normal" fill="#1a1a1a" stroke="#1a1a1a" stroke-width="0.138" >His-Sec14L6 &#916;CRAL-TRIO</text>
<text x="0" y="0" font-size="7" text-anchor="middle" fill="#1a1a1a" transform="translate(333.70 336.70) rotate(-90)">Normalized NBD fluorescence</text>
<line x1="497.00" y1="280.90" x2="497.00" y2="386.10" stroke="#000" stroke-width="1.1" stroke-linecap="butt"/>
<line x1="492.80" y1="385.60" x2="497.00" y2="385.60" stroke="#000" stroke-width="1.1" stroke-linecap="butt"/>
<text x="490.40" y="388.10" font-size="7" text-anchor="end" font-weight="normal" fill="#111" stroke="#111" stroke-width="0.140" >0</text>
<line x1="492.80" y1="350.70" x2="497.00" y2="350.70" stroke="#000" stroke-width="1.1" stroke-linecap="butt"/>
<text x="490.40" y="353.20" font-size="7" text-anchor="end" font-weight="normal" fill="#111" stroke="#111" stroke-width="0.140" >0.5</text>
<line x1="492.80" y1="315.80" x2="497.00" y2="315.80" stroke="#000" stroke-width="1.1" stroke-linecap="butt"/>
<text x="490.40" y="318.30" font-size="7" text-anchor="end" font-weight="normal" fill="#111" stroke="#111" stroke-width="0.140" >1.0</text>
<line x1="492.80" y1="280.90" x2="497.00" y2="280.90" stroke="#000" stroke-width="1.1" stroke-linecap="butt"/>
<text x="490.40" y="283.40" font-size="7" text-anchor="end" font-weight="normal" fill="#111" stroke="#111" stroke-width="0.140" >1.5</text>
<line x1="491.20" y1="385.60" x2="545.40" y2="385.60" stroke="#000" stroke-width="1.1" stroke-linecap="butt"/>
<line x1="502.50" y1="385.60" x2="502.50" y2="390.20" stroke="#000" stroke-width="1.1" stroke-linecap="butt"/>
<line x1="514.60" y1="385.60" x2="514.60" y2="390.20" stroke="#000" stroke-width="1.1" stroke-linecap="butt"/>
<line x1="526.70" y1="385.60" x2="526.70" y2="390.20" stroke="#000" stroke-width="1.1" stroke-linecap="butt"/>
<line x1="538.80" y1="385.60" x2="538.80" y2="390.20" stroke="#000" stroke-width="1.1" stroke-linecap="butt"/>
<text x="519.00" y="265.20" font-size="7" text-anchor="middle" font-weight="normal" fill="#666" stroke="#666" stroke-width="0.140" >NBD-PE</text>
<path d="M502.40 287.70 V281.40 H539.10 V305.80" fill="none" stroke="#111" stroke-width="1"/>
<path d="M502.40 298.50 V292.70 H526.50 V310.50" fill="none" stroke="#111" stroke-width="1"/>
<path d="M502.40 309.60 V304.60 H514.40 V309.60" fill="none" stroke="#111" stroke-width="1"/>
<text x="522.75" y="278.50" font-size="6.3" text-anchor="middle" font-weight="normal" fill="#111" stroke="#111" stroke-width="0.126" >0.5132</text>
<text x="519.15" y="289.80" font-size="6.3" text-anchor="middle" font-weight="normal" fill="#111" stroke="#111" stroke-width="0.126" >0.8704</text>
<text x="515.40" y="301.40" font-size="6.3" text-anchor="middle" font-weight="normal" fill="#111" stroke="#111" stroke-width="0.126" >0.9806</text>
<circle cx="502.50" cy="315.80" r="3.4" fill="none" stroke="#82b2f6" stroke-width="1.15"/>
<line x1="498.70" y1="315.80" x2="506.30" y2="315.80" stroke="#111" stroke-width="1.1" stroke-linecap="butt"/>
<circle cx="514.60" cy="312.31" r="3.4" fill="none" stroke="#f7b888" stroke-width="1.15"/>
<circle cx="514.60" cy="318.94" r="3.4" fill="none" stroke="#f7b888" stroke-width="1.15"/>
<circle cx="514.60" cy="316.50" r="3.4" fill="none" stroke="#f7b888" stroke-width="1.15"/>
<line x1="514.60" y1="314.40" x2="514.60" y2="318.59" stroke="#111" stroke-width="0.9" stroke-linecap="butt"/>
<line x1="513.00" y1="314.40" x2="516.20" y2="314.40" stroke="#111" stroke-width="0.9" stroke-linecap="butt"/>
<line x1="513.00" y1="318.59" x2="516.20" y2="318.59" stroke="#111" stroke-width="0.9" stroke-linecap="butt"/>
<line x1="510.80" y1="316.50" x2="518.40" y2="316.50" stroke="#111" stroke-width="1.1" stroke-linecap="butt"/>
<circle cx="526.70" cy="314.75" r="3.4" fill="none" stroke="#c9c420" stroke-width="1.15"/>
<circle cx="526.70" cy="319.29" r="3.4" fill="none" stroke="#c9c420" stroke-width="1.15"/>
<line x1="526.70" y1="315.10" x2="526.70" y2="318.59" stroke="#111" stroke-width="0.9" stroke-linecap="butt"/>
<line x1="525.10" y1="315.10" x2="528.30" y2="315.10" stroke="#111" stroke-width="0.9" stroke-linecap="butt"/>
<line x1="525.10" y1="318.59" x2="528.30" y2="318.59" stroke="#111" stroke-width="0.9" stroke-linecap="butt"/>
<line x1="522.90" y1="316.50" x2="530.50" y2="316.50" stroke="#111" stroke-width="1.1" stroke-linecap="butt"/>
<circle cx="538.80" cy="315.45" r="3.4" fill="none" stroke="#a4a4a4" stroke-width="1.15"/>
<circle cx="538.80" cy="317.20" r="3.4" fill="none" stroke="#a4a4a4" stroke-width="1.15"/>
<circle cx="538.80" cy="318.80" r="3.4" fill="none" stroke="#a4a4a4" stroke-width="1.15"/>
<line x1="538.80" y1="315.80" x2="538.80" y2="317.55" stroke="#111" stroke-width="0.9" stroke-linecap="butt"/>
<line x1="537.20" y1="315.80" x2="540.40" y2="315.80" stroke="#111" stroke-width="0.9" stroke-linecap="butt"/>
<line x1="537.20" y1="317.55" x2="540.40" y2="317.55" stroke="#111" stroke-width="0.9" stroke-linecap="butt"/>
<line x1="535.00" y1="316.85" x2="542.60" y2="316.85" stroke="#111" stroke-width="1.1" stroke-linecap="butt"/>
<circle cx="475.20" cy="404.50" r="3.5" fill="none" stroke="#82b2f6" stroke-width="1"/>
<text x="485.40" y="407.00" font-size="6.9" text-anchor="start" font-weight="normal" fill="#1a1a1a" stroke="#1a1a1a" stroke-width="0.138" >His-GST</text>
<circle cx="475.20" cy="416.20" r="3.5" fill="none" stroke="#f7b888" stroke-width="1"/>
<text x="485.40" y="418.70" font-size="6.9" text-anchor="start" font-weight="normal" fill="#1a1a1a" stroke="#1a1a1a" stroke-width="0.138" >His-Sec14L6</text>
<circle cx="475.20" cy="427.70" r="3.5" fill="none" stroke="#c9c420" stroke-width="1"/>
<text x="485.40" y="430.20" font-size="6.9" text-anchor="start" font-weight="normal" fill="#1a1a1a" stroke="#1a1a1a" stroke-width="0.138" >His-Sec14L6 CRAL-TRIO</text>
<circle cx="475.20" cy="439.20" r="3.5" fill="none" stroke="#a4a4a4" stroke-width="1"/>
<text x="485.40" y="441.70" font-size="6.9" text-anchor="start" font-weight="normal" fill="#1a1a1a" stroke="#1a1a1a" stroke-width="0.138" >His-Sec14L6 &#916;CRAL-TRIO</text>
<text x="0" y="0" font-size="7" text-anchor="middle" fill="#1a1a1a" transform="translate(471.20 335.00) rotate(-90)">Normalized NBD fluorescence</text>
<line x1="613.60" y1="279.70" x2="613.60" y2="384.90" stroke="#000" stroke-width="1.1" stroke-linecap="butt"/>
<line x1="609.40" y1="384.40" x2="613.60" y2="384.40" stroke="#000" stroke-width="1.1" stroke-linecap="butt"/>
<text x="607.00" y="386.90" font-size="7" text-anchor="end" font-weight="normal" fill="#111" stroke="#111" stroke-width="0.140" >0</text>
<line x1="609.40" y1="349.50" x2="613.60" y2="349.50" stroke="#000" stroke-width="1.1" stroke-linecap="butt"/>
<text x="607.00" y="352.00" font-size="7" text-anchor="end" font-weight="normal" fill="#111" stroke="#111" stroke-width="0.140" >0.5</text>
<line x1="609.40" y1="314.60" x2="613.60" y2="314.60" stroke="#000" stroke-width="1.1" stroke-linecap="butt"/>
<text x="607.00" y="317.10" font-size="7" text-anchor="end" font-weight="normal" fill="#111" stroke="#111" stroke-width="0.140" >1.0</text>
<line x1="609.40" y1="279.70" x2="613.60" y2="279.70" stroke="#000" stroke-width="1.1" stroke-linecap="butt"/>
<text x="607.00" y="282.20" font-size="7" text-anchor="end" font-weight="normal" fill="#111" stroke="#111" stroke-width="0.140" >1.5</text>
<line x1="609.00" y1="384.40" x2="662.00" y2="384.40" stroke="#000" stroke-width="1.1" stroke-linecap="butt"/>
<line x1="619.00" y1="384.40" x2="619.00" y2="389.00" stroke="#000" stroke-width="1.1" stroke-linecap="butt"/>
<line x1="630.90" y1="384.40" x2="630.90" y2="389.00" stroke="#000" stroke-width="1.1" stroke-linecap="butt"/>
<line x1="643.20" y1="384.40" x2="643.20" y2="389.00" stroke="#000" stroke-width="1.1" stroke-linecap="butt"/>
<line x1="655.40" y1="384.40" x2="655.40" y2="389.00" stroke="#000" stroke-width="1.1" stroke-linecap="butt"/>
<text x="636.00" y="264.00" font-size="7" text-anchor="middle" font-weight="normal" fill="#666" stroke="#666" stroke-width="0.140" >NBD-PA</text>
<path d="M618.70 286.20 V280.40 H655.70 V305.10" fill="none" stroke="#111" stroke-width="1"/>
<path d="M618.70 297.10 V291.30 H643.30 V308.70" fill="none" stroke="#111" stroke-width="1"/>
<path d="M618.70 307.60 V302.90 H631.20 V307.60" fill="none" stroke="#111" stroke-width="1"/>
<text x="639.60" y="277.50" font-size="6.3" text-anchor="middle" font-weight="normal" fill="#111" stroke="#111" stroke-width="0.126" >0.9813</text>
<text x="635.45" y="288.40" font-size="6.3" text-anchor="middle" font-weight="normal" fill="#111" stroke="#111" stroke-width="0.126" >0.5961</text>
<text x="632.00" y="300.30" font-size="6.3" text-anchor="middle" font-weight="normal" fill="#111" stroke="#111" stroke-width="0.126" >0.2467</text>
<circle cx="619.00" cy="314.60" r="3.4" fill="none" stroke="#82b2f6" stroke-width="1.15"/>
<line x1="615.20" y1="314.60" x2="622.80" y2="314.60" stroke="#111" stroke-width="1.1" stroke-linecap="butt"/>
<circle cx="630.90" cy="311.11" r="3.4" fill="none" stroke="#f7b888" stroke-width="1.15"/>
<circle cx="630.90" cy="315.30" r="3.4" fill="none" stroke="#f7b888" stroke-width="1.15"/>
<line x1="630.90" y1="311.11" x2="630.90" y2="315.30" stroke="#111" stroke-width="0.9" stroke-linecap="butt"/>
<line x1="629.30" y1="311.11" x2="632.50" y2="311.11" stroke="#111" stroke-width="0.9" stroke-linecap="butt"/>
<line x1="629.30" y1="315.30" x2="632.50" y2="315.30" stroke="#111" stroke-width="0.9" stroke-linecap="butt"/>
<line x1="627.10" y1="313.20" x2="634.70" y2="313.20" stroke="#111" stroke-width="1.1" stroke-linecap="butt"/>
<circle cx="643.20" cy="313.55" r="3.4" fill="#c9c431" stroke="#c9c420" stroke-width="1.15"/>
<circle cx="643.20" cy="318.09" r="3.4" fill="#c9c431" stroke="#c9c420" stroke-width="1.15"/>
<line x1="643.20" y1="314.60" x2="643.20" y2="317.74" stroke="#111" stroke-width="0.9" stroke-linecap="butt"/>
<line x1="641.60" y1="314.60" x2="644.80" y2="314.60" stroke="#111" stroke-width="0.9" stroke-linecap="butt"/>
<line x1="641.60" y1="317.74" x2="644.80" y2="317.74" stroke="#111" stroke-width="0.9" stroke-linecap="butt"/>
<line x1="639.40" y1="316.00" x2="647.00" y2="316.00" stroke="#111" stroke-width="1.1" stroke-linecap="butt"/>
<circle cx="655.40" cy="310.06" r="3.4" fill="none" stroke="#a4a4a4" stroke-width="1.15"/>
<circle cx="655.40" cy="316.69" r="3.4" fill="none" stroke="#a4a4a4" stroke-width="1.15"/>
<circle cx="655.40" cy="318.79" r="3.4" fill="none" stroke="#a4a4a4" stroke-width="1.15"/>
<line x1="655.40" y1="310.76" x2="655.40" y2="319.49" stroke="#111" stroke-width="0.9" stroke-linecap="butt"/>
<line x1="653.80" y1="310.76" x2="657.00" y2="310.76" stroke="#111" stroke-width="0.9" stroke-linecap="butt"/>
<line x1="653.80" y1="319.49" x2="657.00" y2="319.49" stroke="#111" stroke-width="0.9" stroke-linecap="butt"/>
<line x1="651.60" y1="315.30" x2="659.20" y2="315.30" stroke="#111" stroke-width="1.1" stroke-linecap="butt"/>
<circle cx="591.80" cy="403.80" r="3.5" fill="none" stroke="#82b2f6" stroke-width="1"/>
<text x="601.90" y="406.30" font-size="6.9" text-anchor="start" font-weight="normal" fill="#1a1a1a" stroke="#1a1a1a" stroke-width="0.138" >His-GST</text>
<circle cx="591.80" cy="415.20" r="3.5" fill="none" stroke="#f7b888" stroke-width="1"/>
<text x="601.90" y="417.70" font-size="6.9" text-anchor="start" font-weight="normal" fill="#1a1a1a" stroke="#1a1a1a" stroke-width="0.138" >His-Sec14L6</text>
<circle cx="591.80" cy="426.60" r="3.5" fill="none" stroke="#c9c420" stroke-width="1"/>
<text x="601.90" y="429.10" font-size="6.9" text-anchor="start" font-weight="normal" fill="#1a1a1a" stroke="#1a1a1a" stroke-width="0.138" >His-Sec14L6 CRAL-TRIO</text>
<circle cx="591.80" cy="438.30" r="3.5" fill="none" stroke="#a4a4a4" stroke-width="1"/>
<text x="601.90" y="440.80" font-size="6.9" text-anchor="start" font-weight="normal" fill="#1a1a1a" stroke="#1a1a1a" stroke-width="0.138" >His-Sec14L6 &#916;CRAL-TRIO</text>
<text x="0" y="0" font-size="7" text-anchor="middle" fill="#1a1a1a" transform="translate(588.70 333.90) rotate(-90)">Normalized NBD fluorescence</text>
<text transform="translate(383.10 21.50) scale(1 1.22)" font-size="5.6" text-anchor="middle" font-weight="bold" fill="#111" stroke="#111" stroke-width="0.112">Heavy liposome</text>
<circle cx="383.50" cy="50.60" r="24.2" fill="#fff" stroke="#c9c9c9" stroke-width="2.2"/>
<text transform="translate(363.90 42.60) scale(1 1.22)" font-size="5.6" text-anchor="start" font-weight="normal" fill="#111" stroke="#111" stroke-width="0.112">70% DOPC</text>
<text transform="translate(363.90 49.70) scale(1 1.22)" font-size="5.6" text-anchor="start" font-weight="normal" fill="#111" stroke="#111" stroke-width="0.112">30% PE</text>
<text transform="translate(363.90 56.60) scale(1 1.22)" font-size="5.6" text-anchor="start" font-weight="normal" fill="#d8232a" stroke="#d8232a" stroke-width="0.112">0-10% PI</text>
<text transform="translate(363.90 63.60) scale(1 1.22)" font-size="5.6" text-anchor="start" font-weight="normal" fill="#111" stroke="#111" stroke-width="0.112">0.75M Sucrose</text>
<path d="M381.60 79.80 H383.60 V95.70 H386.20 L382.60 104.20 L379.00 95.70 H381.60 Z" fill="#000"/>
<path d="M346 94.2 L352.5 88.5 C355 86.5 357 87 358.5 89.5 L360 92 C361.5 94.5 363.5 94.5 365 93 L368.8 89.3" fill="none" stroke="#2fc3f2" stroke-width="5.0"/>
<circle cx="358.4" cy="90.6" r="2.4" fill="#ef7e2c"/>
<text transform="translate(355.00 105.80) scale(1 1.22)" font-size="5.6" text-anchor="middle" font-weight="normal" fill="#111" stroke="#111" stroke-width="0.112">His-Sec14L6</text>
<circle cx="403.9" cy="87.8" r="2.4" fill="#ef7e2c"/>
<text transform="translate(406.80 98.60) scale(1 1.22)" font-size="5.6" text-anchor="middle" font-weight="normal" fill="#111" stroke="#111" stroke-width="0.112">His-Sec14L6-</text>
<text transform="translate(408.50 105.80) scale(1 1.22)" font-size="5.6" text-anchor="middle" font-weight="normal" fill="#111" stroke="#111" stroke-width="0.112">CRAL-TRIO</text>
<circle cx="382.50" cy="147.90" r="24.6" fill="#fff" stroke="#c9c9c9" stroke-width="2.4"/>
<circle cx="380.4" cy="120.7" r="2.5" fill="#ef7e2c"/>
<circle cx="402.7" cy="128.2" r="2.5" fill="#ef7e2c"/>
<circle cx="354.3" cy="147.9" r="2.5" fill="#ef7e2c"/>
<circle cx="408.4" cy="155.0" r="2.5" fill="#ef7e2c"/>
<circle cx="367.7" cy="170.7" r="2.5" fill="#ef7e2c"/>
<circle cx="392.9" cy="172.9" r="2.5" fill="#ef7e2c"/>
<path d="M371.3 121.5 L375 115.5 C376.5 113 379 113 380.5 115.5 L382.5 119 C384 120.5 386 120 387 118 L391.6 110.8" fill="none" stroke="#2fc3f2" stroke-width="5.0"/>
<path d="M418.2 149.4 L411.5 153 C409.5 154.5 409.5 156 411 157.5 C412.5 159.5 411.5 161 409.5 162 L404.8 164.6" fill="none" stroke="#2fc3f2" stroke-width="5.0"/>
<circle cx="408.3" cy="155.0" r="2.6" fill="#ef7e2c"/>
<line x1="456.60" y1="32.90" x2="517.00" y2="32.90" stroke="#000" stroke-width="1.8" stroke-linecap="butt"/>
<line x1="527.90" y1="32.90" x2="559.10" y2="32.90" stroke="#000" stroke-width="1.8" stroke-linecap="butt"/>
<text transform="translate(488.80 28.75) scale(1 1.22)" font-size="5.6" text-anchor="middle" font-weight="normal" fill="#111" stroke="#111" stroke-width="0.112">PI</text>
<text transform="translate(543.90 28.75) scale(1 1.22)" font-size="5.6" text-anchor="middle" font-weight="normal" fill="#111" stroke="#111" stroke-width="0.112">PI4P</text>
<text transform="translate(463.70 40.70) scale(1 1.22)" font-size="5.6" text-anchor="middle" font-weight="normal" fill="#111" stroke="#111" stroke-width="0.112">0%</text>
<text transform="translate(479.10 40.70) scale(1 1.22)" font-size="5.6" text-anchor="middle" font-weight="normal" fill="#111" stroke="#111" stroke-width="0.112">2%</text>
<text transform="translate(495.00 40.70) scale(1 1.22)" font-size="5.6" text-anchor="middle" font-weight="normal" fill="#111" stroke="#111" stroke-width="0.112">5%</text>
<text transform="translate(510.80 40.70) scale(1 1.22)" font-size="5.6" text-anchor="middle" font-weight="normal" fill="#111" stroke="#111" stroke-width="0.112">10%</text>
<text transform="translate(535.50 40.70) scale(1 1.22)" font-size="5.6" text-anchor="middle" font-weight="normal" fill="#111" stroke="#111" stroke-width="0.112">0%</text>
<text transform="translate(551.80 40.70) scale(1 1.22)" font-size="5.6" text-anchor="middle" font-weight="normal" fill="#111" stroke="#111" stroke-width="0.112">5%</text>
<line x1="457.40" y1="44.00" x2="470.00" y2="44.00" stroke="#000" stroke-width="1.8" stroke-linecap="butt"/>
<line x1="473.00" y1="44.00" x2="485.80" y2="44.00" stroke="#000" stroke-width="1.8" stroke-linecap="butt"/>
<line x1="489.00" y1="44.00" x2="501.70" y2="44.00" stroke="#000" stroke-width="1.8" stroke-linecap="butt"/>
<line x1="504.50" y1="44.00" x2="517.10" y2="44.00" stroke="#000" stroke-width="1.8" stroke-linecap="butt"/>
<line x1="529.20" y1="44.00" x2="541.90" y2="44.00" stroke="#000" stroke-width="1.8" stroke-linecap="butt"/>
<line x1="545.30" y1="44.00" x2="558.00" y2="44.00" stroke="#000" stroke-width="1.8" stroke-linecap="butt"/>
<text transform="translate(459.70 52.20) scale(1 1.22)" font-size="5.6" text-anchor="middle" font-weight="normal" fill="#111" stroke="#111" stroke-width="0.112">S</text>
<text transform="translate(467.30 52.20) scale(1 1.22)" font-size="5.6" text-anchor="middle" font-weight="normal" fill="#111" stroke="#111" stroke-width="0.112">P</text>
<text transform="translate(474.90 52.20) scale(1 1.22)" font-size="5.6" text-anchor="middle" font-weight="normal" fill="#111" stroke="#111" stroke-width="0.112">S</text>
<text transform="translate(483.00 52.20) scale(1 1.22)" font-size="5.6" text-anchor="middle" font-weight="normal" fill="#111" stroke="#111" stroke-width="0.112">P</text>
<text transform="translate(491.00 52.20) scale(1 1.22)" font-size="5.6" text-anchor="middle" font-weight="normal" fill="#111" stroke="#111" stroke-width="0.112">S</text>
<text transform="translate(498.80 52.20) scale(1 1.22)" font-size="5.6" text-anchor="middle" font-weight="normal" fill="#111" stroke="#111" stroke-width="0.112">P</text>
<text transform="translate(506.70 52.20) scale(1 1.22)" font-size="5.6" text-anchor="middle" font-weight="normal" fill="#111" stroke="#111" stroke-width="0.112">S</text>
<text transform="translate(514.60 52.20) scale(1 1.22)" font-size="5.6" text-anchor="middle" font-weight="normal" fill="#111" stroke="#111" stroke-width="0.112">P</text>
<text transform="translate(531.30 52.20) scale(1 1.22)" font-size="5.6" text-anchor="middle" font-weight="normal" fill="#111" stroke="#111" stroke-width="0.112">S</text>
<text transform="translate(539.70 52.20) scale(1 1.22)" font-size="5.6" text-anchor="middle" font-weight="normal" fill="#111" stroke="#111" stroke-width="0.112">P</text>
<text transform="translate(547.60 52.20) scale(1 1.22)" font-size="5.6" text-anchor="middle" font-weight="normal" fill="#111" stroke="#111" stroke-width="0.112">S</text>
<text transform="translate(556.00 52.20) scale(1 1.22)" font-size="5.6" text-anchor="middle" font-weight="normal" fill="#111" stroke="#111" stroke-width="0.112">P</text>
<line x1="577.90" y1="31.90" x2="638.50" y2="31.90" stroke="#000" stroke-width="1.8" stroke-linecap="butt"/>
<line x1="648.90" y1="31.90" x2="679.90" y2="31.90" stroke="#000" stroke-width="1.8" stroke-linecap="butt"/>
<text transform="translate(608.50 28.20) scale(1 1.22)" font-size="5.6" text-anchor="middle" font-weight="normal" fill="#111" stroke="#111" stroke-width="0.112">PI</text>
<text transform="translate(664.60 28.20) scale(1 1.22)" font-size="5.6" text-anchor="middle" font-weight="normal" fill="#111" stroke="#111" stroke-width="0.112">PI4P</text>
<text transform="translate(584.80 39.50) scale(1 1.22)" font-size="5.6" text-anchor="middle" font-weight="normal" fill="#111" stroke="#111" stroke-width="0.112">0%</text>
<text transform="translate(600.50 39.50) scale(1 1.22)" font-size="5.6" text-anchor="middle" font-weight="normal" fill="#111" stroke="#111" stroke-width="0.112">2%</text>
<text transform="translate(616.00 39.50) scale(1 1.22)" font-size="5.6" text-anchor="middle" font-weight="normal" fill="#111" stroke="#111" stroke-width="0.112">5%</text>
<text transform="translate(631.80 39.50) scale(1 1.22)" font-size="5.6" text-anchor="middle" font-weight="normal" fill="#111" stroke="#111" stroke-width="0.112">10%</text>
<text transform="translate(656.40 39.50) scale(1 1.22)" font-size="5.6" text-anchor="middle" font-weight="normal" fill="#111" stroke="#111" stroke-width="0.112">0%</text>
<text transform="translate(672.30 39.50) scale(1 1.22)" font-size="5.6" text-anchor="middle" font-weight="normal" fill="#111" stroke="#111" stroke-width="0.112">5%</text>
<line x1="578.80" y1="43.00" x2="591.20" y2="43.00" stroke="#000" stroke-width="1.8" stroke-linecap="butt"/>
<line x1="594.00" y1="43.00" x2="606.80" y2="43.00" stroke="#000" stroke-width="1.8" stroke-linecap="butt"/>
<line x1="610.00" y1="43.00" x2="622.70" y2="43.00" stroke="#000" stroke-width="1.8" stroke-linecap="butt"/>
<line x1="625.50" y1="43.00" x2="638.10" y2="43.00" stroke="#000" stroke-width="1.8" stroke-linecap="butt"/>
<line x1="650.00" y1="43.00" x2="662.90" y2="43.00" stroke="#000" stroke-width="1.8" stroke-linecap="butt"/>
<line x1="666.10" y1="43.00" x2="678.80" y2="43.00" stroke="#000" stroke-width="1.8" stroke-linecap="butt"/>
<text transform="translate(581.20 51.25) scale(1 1.22)" font-size="5.6" text-anchor="middle" font-weight="normal" fill="#111" stroke="#111" stroke-width="0.112">S</text>
<text transform="translate(588.80 51.25) scale(1 1.22)" font-size="5.6" text-anchor="middle" font-weight="normal" fill="#111" stroke="#111" stroke-width="0.112">P</text>
<text transform="translate(596.20 51.25) scale(1 1.22)" font-size="5.6" text-anchor="middle" font-weight="normal" fill="#111" stroke="#111" stroke-width="0.112">S</text>
<text transform="translate(604.20 51.25) scale(1 1.22)" font-size="5.6" text-anchor="middle" font-weight="normal" fill="#111" stroke="#111" stroke-width="0.112">P</text>
<text transform="translate(612.20 51.25) scale(1 1.22)" font-size="5.6" text-anchor="middle" font-weight="normal" fill="#111" stroke="#111" stroke-width="0.112">S</text>
<text transform="translate(619.80 51.25) scale(1 1.22)" font-size="5.6" text-anchor="middle" font-weight="normal" fill="#111" stroke="#111" stroke-width="0.112">P</text>
<text transform="translate(627.70 51.25) scale(1 1.22)" font-size="5.6" text-anchor="middle" font-weight="normal" fill="#111" stroke="#111" stroke-width="0.112">S</text>
<text transform="translate(635.60 51.25) scale(1 1.22)" font-size="5.6" text-anchor="middle" font-weight="normal" fill="#111" stroke="#111" stroke-width="0.112">P</text>
<text transform="translate(652.40 51.25) scale(1 1.22)" font-size="5.6" text-anchor="middle" font-weight="normal" fill="#111" stroke="#111" stroke-width="0.112">S</text>
<text transform="translate(660.20 51.25) scale(1 1.22)" font-size="5.6" text-anchor="middle" font-weight="normal" fill="#111" stroke="#111" stroke-width="0.112">P</text>
<text transform="translate(668.40 51.25) scale(1 1.22)" font-size="5.6" text-anchor="middle" font-weight="normal" fill="#111" stroke="#111" stroke-width="0.112">S</text>
<text transform="translate(676.50 51.25) scale(1 1.22)" font-size="5.6" text-anchor="middle" font-weight="normal" fill="#111" stroke="#111" stroke-width="0.112">P</text>
<rect x="454.8" y="55.4" width="105.6" height="117.0" fill="#fff" stroke="#222" stroke-width="1.1"/>
<rect x="575.6" y="53.8" width="105.4" height="116.7" fill="#fff" stroke="#222" stroke-width="1.1"/>
<ellipse cx="460.2" cy="83.0" rx="1.6" ry="0.9" fill="#f1f1f1" filter="url(#bl)"/>
<ellipse cx="460.2" cy="86.0" rx="1.6" ry="0.9" fill="#f1f1f1" filter="url(#bl)"/>
<ellipse cx="460.2" cy="90.0" rx="1.6" ry="0.9" fill="#f1f1f1" filter="url(#bl)"/>
<ellipse cx="460.2" cy="93.8" rx="1.6" ry="0.9" fill="#f1f1f1" filter="url(#bl)"/>
<ellipse cx="475.6" cy="83.0" rx="1.6" ry="0.9" fill="#f1f1f1" filter="url(#bl)"/>
<ellipse cx="475.6" cy="86.0" rx="1.6" ry="0.9" fill="#f1f1f1" filter="url(#bl)"/>
<ellipse cx="475.6" cy="90.0" rx="1.6" ry="0.9" fill="#f1f1f1" filter="url(#bl)"/>
<ellipse cx="475.6" cy="93.8" rx="1.6" ry="0.9" fill="#f1f1f1" filter="url(#bl)"/>
<ellipse cx="491.6" cy="83.0" rx="1.6" ry="0.9" fill="#f1f1f1" filter="url(#bl)"/>
<ellipse cx="491.6" cy="86.0" rx="1.6" ry="0.9" fill="#f1f1f1" filter="url(#bl)"/>
<ellipse cx="491.6" cy="90.0" rx="1.6" ry="0.9" fill="#f1f1f1" filter="url(#bl)"/>
<ellipse cx="491.6" cy="93.8" rx="1.6" ry="0.9" fill="#f1f1f1" filter="url(#bl)"/>
<ellipse cx="507.0" cy="83.0" rx="1.6" ry="0.9" fill="#f1f1f1" filter="url(#bl)"/>
<ellipse cx="507.0" cy="86.0" rx="1.6" ry="0.9" fill="#f1f1f1" filter="url(#bl)"/>
<ellipse cx="507.0" cy="90.0" rx="1.6" ry="0.9" fill="#f1f1f1" filter="url(#bl)"/>
<ellipse cx="507.0" cy="93.8" rx="1.6" ry="0.9" fill="#f1f1f1" filter="url(#bl)"/>
<ellipse cx="555.2" cy="83.0" rx="1.6" ry="0.9" fill="#f1f1f1" filter="url(#bl)"/>
<ellipse cx="555.2" cy="86.0" rx="1.6" ry="0.9" fill="#f1f1f1" filter="url(#bl)"/>
<ellipse cx="555.2" cy="90.0" rx="1.6" ry="0.9" fill="#f1f1f1" filter="url(#bl)"/>
<ellipse cx="555.2" cy="93.8" rx="1.6" ry="0.9" fill="#f1f1f1" filter="url(#bl)"/>
<rect x="456.20" y="114.10" width="6.4" height="3.4" rx="1.70" fill="rgb(0,0,0)" filter="url(#bl)"/>
<rect x="471.10" y="114.10" width="6.6" height="3.4" rx="1.70" fill="rgb(0,0,0)" filter="url(#bl)"/>
<rect x="480.65" y="115.00" width="4.5" height="1.6" rx="0.80" fill="rgb(229,229,229)" filter="url(#bl)"/>
<rect x="487.50" y="114.10" width="6.6" height="3.4" rx="1.70" fill="rgb(0,0,0)" filter="url(#bl)"/>
<rect x="496.25" y="115.00" width="4.5" height="1.6" rx="0.80" fill="rgb(216,216,216)" filter="url(#bl)"/>
<rect x="503.20" y="114.20" width="6.4" height="3.2" rx="1.60" fill="rgb(0,0,0)" filter="url(#bl)"/>
<rect x="512.65" y="114.90" width="4.5" height="1.8" rx="0.90" fill="rgb(158,158,158)" filter="url(#bl)"/>
<rect x="527.50" y="114.20" width="6.4" height="3.2" rx="1.60" fill="rgb(0,0,0)" filter="url(#bl)"/>
<rect x="536.60" y="115.10" width="4" height="1.4" rx="0.70" fill="rgb(234,234,234)" filter="url(#bl)"/>
<rect x="544.50" y="114.80" width="5" height="2.0" rx="1.00" fill="rgb(173,173,173)" filter="url(#bl)"/>
<rect x="552.10" y="114.10" width="6.4" height="3.4" rx="1.70" fill="rgb(0,0,0)" filter="url(#bl)"/>
<rect x="577.70" y="125.70" width="6.6" height="3.8" rx="1.90" fill="rgb(0,0,0)" filter="url(#bl)"/>
<rect x="587.05" y="126.85" width="3.5" height="1.5" rx="0.75" fill="rgb(237,237,237)" filter="url(#bl)"/>
<rect x="592.70" y="125.10" width="7.4" height="5.0" rx="2.50" fill="rgb(0,0,0)" filter="url(#bl)"/>
<rect x="602.00" y="126.80" width="4" height="1.6" rx="0.80" fill="rgb(229,229,229)" filter="url(#bl)"/>
<rect x="608.70" y="125.30" width="7.0" height="4.6" rx="2.30" fill="rgb(0,0,0)" filter="url(#bl)"/>
<rect x="617.80" y="126.60" width="4.6" height="2.0" rx="1.00" fill="rgb(127,127,127)" filter="url(#bl)"/>
<rect x="624.70" y="125.50" width="7.6" height="4.2" rx="2.10" fill="rgb(0,0,0)" filter="url(#bl)"/>
<rect x="634.40" y="126.50" width="4.8" height="2.2" rx="1.10" fill="rgb(50,50,50)" filter="url(#bl)"/>
<rect x="648.90" y="125.80" width="6.6" height="3.6" rx="1.80" fill="rgb(0,0,0)" filter="url(#bl)"/>
<rect x="658.30" y="126.80" width="4.6" height="1.6" rx="0.80" fill="rgb(204,204,204)" filter="url(#bl)"/>
<rect x="665.40" y="126.50" width="5.2" height="2.2" rx="1.10" fill="rgb(114,114,114)" filter="url(#bl)"/>
<rect x="672.70" y="125.40" width="6.4" height="4.4" rx="2.20" fill="rgb(0,0,0)" filter="url(#bl)"/>
<line x1="448.40" y1="123.00" x2="454.80" y2="123.00" stroke="#000" stroke-width="2.0" stroke-linecap="butt"/>
<text transform="translate(446.60 125.00) scale(1 1.22)" font-size="5.6" text-anchor="end" font-weight="normal" fill="#111" stroke="#111" stroke-width="0.112">45</text>
<line x1="568.70" y1="133.70" x2="575.60" y2="133.70" stroke="#000" stroke-width="2.0" stroke-linecap="butt"/>
<text transform="translate(568.20 135.70) scale(1 1.22)" font-size="5.6" text-anchor="end" font-weight="normal" fill="#111" stroke="#111" stroke-width="0.112">35</text>
<text transform="translate(439.00 169.70) scale(1 1.22)" font-size="5.6" text-anchor="start" font-weight="normal" fill="#111" stroke="#111" stroke-width="0.112">kDa</text>
<text transform="translate(504.00 181.80) scale(1 1.22)" font-size="5.6" text-anchor="middle" font-weight="normal" fill="#111" stroke="#111" stroke-width="0.112">His-Sec14L6</text>
<text transform="translate(621.60 181.20) scale(1 1.22)" font-size="5.6" text-anchor="middle" font-weight="normal" fill="#111" stroke="#111" stroke-width="0.112">His-Sec14L6 CRAL-TRIO</text>
<line x1="491.80" y1="187.00" x2="654.00" y2="187.00" stroke="#000" stroke-width="1.8" stroke-linecap="butt"/>
<text transform="translate(570.50 196.80) scale(1 1.22)" font-size="5.6" text-anchor="middle" font-weight="normal" fill="#111" stroke="#111" stroke-width="0.112">anti-His</text>
</svg></body></html>
